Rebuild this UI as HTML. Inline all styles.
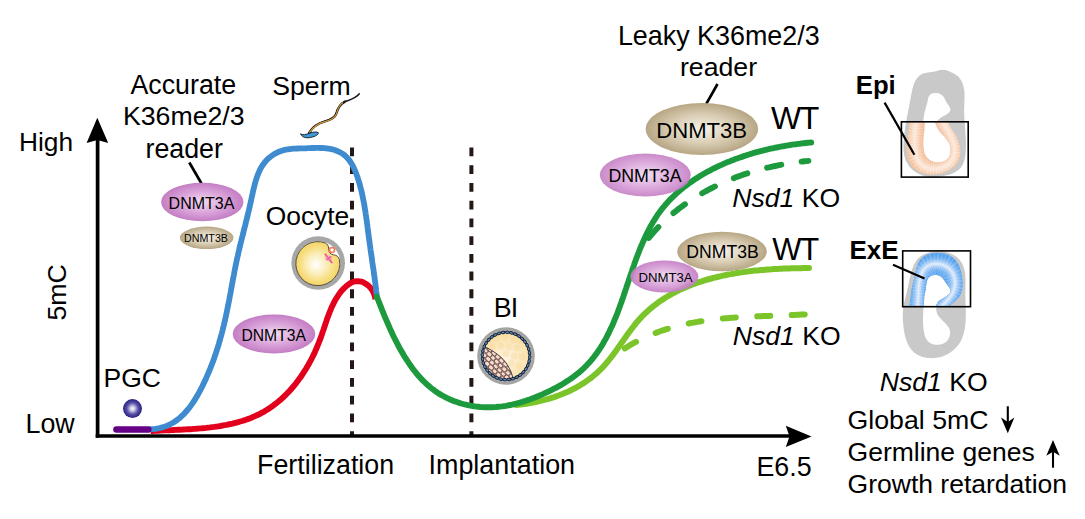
<!DOCTYPE html>
<html><head><meta charset="utf-8">
<style>
html,body{margin:0;padding:0;background:#fff;width:1085px;height:519px;overflow:hidden}
svg{display:block}
text{font-family:"Liberation Sans",sans-serif;fill:#000}
</style></head>
<body>
<svg width="1085" height="519" viewBox="0 0 1085 519">
<defs>
  <radialGradient id="gA" cx="50%" cy="50%" r="50%">
    <stop offset="0" stop-color="#f1dcf1"/>
    <stop offset="0.5" stop-color="#dcaadc"/>
    <stop offset="0.85" stop-color="#cc8acc"/>
    <stop offset="1" stop-color="#c27ec2"/>
  </radialGradient>
  <radialGradient id="gB" cx="50%" cy="50%" r="50%">
    <stop offset="0" stop-color="#f7f3ec"/>
    <stop offset="0.55" stop-color="#d9cdb4"/>
    <stop offset="1" stop-color="#b7a684"/>
  </radialGradient>
  <radialGradient id="gPGC" cx="50%" cy="50%" r="50%" fx="50%" fy="50%">
    <stop offset="0" stop-color="#ffffff"/>
    <stop offset="0.25" stop-color="#c9c6e6"/>
    <stop offset="0.6" stop-color="#5a52a8"/>
    <stop offset="1" stop-color="#251d80"/>
  </radialGradient>
  <radialGradient id="gOoc" cx="50%" cy="50%" r="50%" fx="45%" fy="53%">
    <stop offset="0" stop-color="#ffffff"/>
    <stop offset="0.45" stop-color="#fbeebb"/>
    <stop offset="0.8" stop-color="#f7dd7c"/>
    <stop offset="1" stop-color="#f4d468"/>
  </radialGradient>
  <radialGradient id="gBl" cx="50%" cy="55%" r="55%">
    <stop offset="0" stop-color="#fdf5e4"/>
    <stop offset="1" stop-color="#fbe0a6"/>
  </radialGradient>
  <clipPath id="clipBl"><circle cx="506" cy="356" r="22.5"/></clipPath>
  <clipPath id="clipICM"><path d="M482.5,345.5 C493,350.5 503,357 508,366 C510.5,370 511.8,373.5 513,378.5 L470,395 L470,340 Z"/></clipPath>
  <mask id="oocMask">
    <rect x="280" y="220" width="80" height="80" fill="#fff"/>
    <circle cx="332.2" cy="249.6" r="5.2" fill="#000"/>
  </mask>
  <clipPath id="clipEpi"><rect x="880" y="121.8" width="100" height="60"/></clipPath>
  <clipPath id="clipExE"><rect x="880" y="240" width="100" height="66"/></clipPath>
  <clipPath id="clipEpiBand"><path d="M909.4,117.1 L908.9,118.3 L908.8,119.8 L908.9,121.3 L909.0,122.9 L909.1,124.4 L909.0,125.9 L909.0,127.4 L908.8,128.8 L908.7,130.2 L908.5,131.7 L908.3,133.1 L908.1,134.5 L907.8,136.0 L907.6,137.4 L907.4,138.8 L907.2,140.3 L907.0,141.8 L906.9,143.3 L906.8,144.8 L906.7,146.3 L906.7,147.9 L906.8,149.4 L906.8,150.9 L907.0,152.5 L907.2,154.0 L907.4,155.4 L907.7,156.9 L908.1,158.3 L908.5,159.7 L909.0,161.1 L909.6,162.4 L910.2,163.6 L911.0,164.8 L911.8,166.0 L912.6,167.0 L913.6,168.0 L914.6,168.9 L915.7,169.8 L916.9,170.5 L918.1,171.2 L919.4,171.8 L920.8,172.4 L922.2,172.9 L923.6,173.3 L925.0,173.7 L926.5,173.9 L928.0,174.2 L929.6,174.3 L931.1,174.4 L932.7,174.4 L934.2,174.3 L935.8,174.2 L937.4,174.0 L938.9,173.8 L940.4,173.5 L941.9,173.1 L943.4,172.6 L944.9,172.1 L946.3,171.6 L947.6,170.9 L949.0,170.2 L950.2,169.5 L951.5,168.6 L952.6,167.8 L953.7,166.8 L954.7,165.8 L955.7,164.8 L956.6,163.7 L957.4,162.6 L958.1,161.4 L958.7,160.1 L959.3,158.8 L959.7,157.5 L960.1,156.1 L960.3,154.7 L960.4,153.2 L960.5,151.7 L960.4,150.2 L960.2,148.7 L960.0,147.1 L959.7,145.6 L959.3,144.1 L958.8,142.6 L958.3,141.1 L957.8,139.7 L957.2,138.4 L956.6,137.1 L955.9,135.8 L955.2,134.5 L954.4,133.3 L953.6,132.1 L952.8,130.9 L952.0,129.7 L951.1,128.5 L950.3,127.3 L949.6,126.0 L949.1,124.7 L948.9,123.3 L948.8,121.8 L948.7,120.3 L948.6,118.9 L948.2,117.6 L947.5,116.5 L946.5,115.7 L945.2,115.1 L943.7,114.8 L942.1,114.7 L940.5,115.0 L939.0,115.5 L937.6,116.3 L936.5,117.2 L935.6,118.3 L935.1,119.4 L934.9,120.7 L935.0,122.0 L935.3,123.4 L935.8,124.8 L936.4,126.3 L937.2,127.7 L938.1,129.1 L939.1,130.5 L940.1,131.8 L941.1,133.1 L942.1,134.3 L943.1,135.5 L944.1,136.6 L945.1,137.7 L946.0,138.8 L946.9,139.9 L947.7,141.0 L948.4,142.1 L949.1,143.3 L949.6,144.5 L950.1,145.7 L950.4,147.0 L950.7,148.4 L950.7,149.8 L950.7,151.4 L950.4,152.9 L950.1,154.5 L949.5,156.0 L948.8,157.4 L947.9,158.7 L946.8,159.7 L945.6,160.6 L944.3,161.3 L942.8,161.8 L941.3,162.2 L939.7,162.4 L938.1,162.5 L936.5,162.4 L935.0,162.1 L933.5,161.7 L932.0,161.3 L930.7,160.6 L929.5,159.9 L928.4,159.1 L927.5,158.2 L926.6,157.1 L925.9,156.0 L925.2,154.8 L924.7,153.6 L924.2,152.2 L923.9,150.8 L923.6,149.3 L923.4,147.8 L923.3,146.2 L923.2,144.6 L923.2,143.0 L923.3,141.3 L923.4,139.6 L923.6,137.9 L923.7,136.1 L923.9,134.4 L924.1,132.7 L924.3,131.0 L924.5,129.4 L924.6,127.8 L924.7,126.2 L924.7,124.7 L924.6,123.3 L924.5,121.9 L924.2,120.7 L923.9,119.5 L923.4,118.5 L922.8,117.5 L922.0,116.7 L921.0,116.1 L919.9,115.5 L918.6,115.2 L917.1,115.0 L915.4,114.9 L913.6,115.1 L911.9,115.5 L910.4,116.2 Z"/></clipPath>
  <clipPath id="clipExEBand"><path d="M909.6,309.8 L909.2,308.7 L909.1,307.3 L909.3,305.8 L909.6,304.2 L909.8,302.7 L910.0,301.1 L910.2,299.6 L910.4,298.1 L910.6,296.7 L910.8,295.2 L911.0,293.8 L911.1,292.3 L911.4,290.9 L911.6,289.5 L911.9,288.1 L912.2,286.7 L912.5,285.3 L912.8,283.9 L913.2,282.5 L913.6,281.1 L913.9,279.6 L914.3,278.2 L914.7,276.7 L915.0,275.3 L915.3,273.8 L915.6,272.3 L915.9,270.8 L916.2,269.3 L916.6,267.8 L917.0,266.4 L917.4,264.9 L917.9,263.6 L918.5,262.3 L919.2,261.1 L920.0,259.9 L920.9,258.9 L921.9,257.9 L923.0,257.0 L924.2,256.2 L925.4,255.5 L926.7,254.8 L928.1,254.3 L929.6,253.8 L931.1,253.4 L932.6,253.1 L934.1,252.9 L935.7,252.8 L937.2,252.7 L938.8,252.7 L940.4,252.9 L941.9,253.0 L943.5,253.3 L944.9,253.7 L946.4,254.1 L947.8,254.6 L949.2,255.2 L950.4,255.9 L951.6,256.6 L952.8,257.4 L953.8,258.3 L954.8,259.3 L955.7,260.3 L956.6,261.4 L957.3,262.6 L958.0,263.8 L958.7,265.1 L959.3,266.4 L959.8,267.7 L960.3,269.2 L960.8,270.6 L961.2,272.1 L961.5,273.6 L961.8,275.1 L962.1,276.6 L962.3,278.2 L962.5,279.8 L962.6,281.4 L962.6,282.9 L962.6,284.5 L962.6,286.0 L962.4,287.5 L962.2,289.0 L962.0,290.4 L961.6,291.8 L961.2,293.2 L960.6,294.4 L960.0,295.6 L959.3,296.8 L958.5,297.8 L957.6,298.8 L956.6,299.8 L955.6,300.7 L954.5,301.6 L953.4,302.5 L952.3,303.4 L951.1,304.4 L950.0,305.4 L948.8,306.5 L947.6,307.5 L946.4,308.5 L945.1,309.5 L943.8,310.4 L942.4,311.1 L941.0,311.6 L939.7,311.7 L938.6,311.4 L937.7,310.6 L937.0,309.5 L936.5,308.2 L936.4,306.8 L936.4,305.3 L936.8,304.0 L937.5,302.7 L938.4,301.6 L939.5,300.6 L940.8,299.7 L942.2,298.9 L943.6,298.0 L945.0,297.2 L946.4,296.3 L947.7,295.4 L948.9,294.4 L949.8,293.4 L950.4,292.3 L950.7,291.2 L950.6,290.1 L950.1,288.9 L949.4,287.7 L948.5,286.4 L947.5,285.1 L946.4,283.8 L945.5,282.5 L944.6,281.1 L943.7,279.8 L942.9,278.6 L941.9,277.5 L940.8,276.6 L939.6,275.9 L938.2,275.4 L936.7,275.1 L935.2,275.1 L933.7,275.2 L932.2,275.5 L930.9,276.1 L929.7,276.8 L928.7,277.7 L927.9,278.9 L927.3,280.1 L926.9,281.5 L926.6,283.0 L926.3,284.6 L926.1,286.1 L925.9,287.7 L925.7,289.3 L925.4,290.8 L925.0,292.2 L924.7,293.6 L924.3,295.0 L924.1,296.5 L923.9,297.9 L923.7,299.4 L923.8,301.0 L923.9,302.6 L924.0,304.2 L924.1,305.7 L924.1,307.2 L923.8,308.5 L923.3,309.6 L922.5,310.6 L921.3,311.3 L919.9,311.8 L918.4,312.0 L916.7,312.2 L914.9,312.1 L913.3,311.9 L911.8,311.4 L910.5,310.8 Z"/></clipPath>
</defs>

<!-- dashed vertical lines -->
<line x1="352" y1="147.5" x2="352" y2="435" stroke="#231815" stroke-width="4" stroke-dasharray="8.8 8.93"/>
<line x1="471.4" y1="147.5" x2="471.4" y2="435" stroke="#231815" stroke-width="4" stroke-dasharray="8.8 8.93"/>

<!-- axes -->
<line x1="97.6" y1="140" x2="97.6" y2="437.8" stroke="#000" stroke-width="3.7"/>
<polygon points="97.3,117.7 108.2,143 97.4,140 86.6,143" fill="#000"/>
<line x1="95.7" y1="436" x2="790" y2="436" stroke="#000" stroke-width="3.6"/>
<polygon points="811.5,436.4 785.8,425.7 789.5,436.4 785.8,447" fill="#000"/>

<!-- curves -->
<path d="M150.6,431.1 L152.5,431.0 L154.3,430.9 L156.2,430.8 L158.1,430.7 L160.0,430.6 L161.9,430.5 L163.9,430.4 L165.8,430.3 L167.8,430.3 L169.7,430.2 L171.7,430.1 L173.7,430.0 L175.7,429.9 L177.7,429.8 L179.7,429.7 L181.7,429.6 L183.7,429.5 L185.7,429.4 L187.8,429.3 L189.8,429.2 L191.9,429.1 L193.9,428.9 L195.9,428.8 L198.0,428.6 L200.0,428.4 L202.1,428.3 L204.1,428.1 L206.2,427.9 L208.2,427.6 L210.3,427.4 L212.3,427.1 L214.3,426.9 L216.4,426.6 L218.4,426.3 L220.4,426.0 L222.4,425.6 L224.4,425.2 L226.4,424.9 L228.4,424.5 L230.4,424.0 L232.4,423.6 L234.3,423.1 L236.3,422.6 L238.2,422.1 L240.1,421.5 L242.1,421.0 L244.0,420.4 L245.8,419.7 L247.7,419.1 L249.6,418.4 L251.4,417.7 L253.2,416.9 L255.0,416.1 L256.8,415.3 L258.6,414.5 L260.3,413.6 L262.0,412.7 L263.7,411.8 L265.4,410.8 L267.1,409.8 L268.7,408.7 L270.3,407.6 L271.9,406.5 L273.5,405.4 L275.0,404.2 L276.6,403.0 L278.1,401.8 L279.6,400.5 L281.1,399.2 L282.5,397.9 L284.0,396.6 L285.4,395.2 L286.8,393.8 L288.1,392.4 L289.5,391.0 L290.8,389.5 L292.1,388.0 L293.4,386.5 L294.7,385.0 L295.9,383.4 L297.1,381.8 L298.3,380.2 L299.5,378.6 L300.7,377.0 L301.8,375.3 L302.9,373.6 L304.0,371.9 L305.1,370.2 L306.2,368.5 L307.2,366.7 L308.2,365.0 L309.2,363.2 L310.2,361.4 L311.2,359.6 L312.1,357.8 L313.0,355.9 L313.9,354.1 L314.8,352.2 L315.6,350.3 L316.4,348.5 L317.2,346.6 L318.0,344.7 L318.8,342.8 L319.5,340.8 L320.3,338.9 L321.0,337.0 L321.7,335.0 L322.3,333.1 L323.0,331.1 L323.7,329.2 L324.3,327.2 L325.0,325.3 L325.6,323.4 L326.3,321.4 L326.9,319.5 L327.6,317.6 L328.3,315.7 L329.0,313.9 L329.7,312.0 L330.5,310.2 L331.2,308.3 L332.0,306.6 L332.9,304.8 L333.7,303.0 L334.6,301.3 L335.6,299.6 L336.5,298.0 L337.6,296.4 L338.6,294.8 L339.7,293.3 L340.9,291.7 L342.1,290.3 L343.4,288.9 L344.8,287.5 L346.2,286.2 L347.7,285.0 L349.2,283.9 L350.8,282.9 L352.5,282.1 L354.1,281.5 L355.9,281.2 L357.7,281.1 L359.5,281.3 L361.3,281.7 L363.1,282.3 L364.8,283.2 L366.5,284.3 L368.2,285.5 L369.7,287.0 L371.1,288.6 L372.3,290.4 L373.4,292.4 L374.3,294.5 L375.0,296.8 L375.4,299.2" fill="none" stroke="#e2001c" stroke-width="5.9"/>
<path d="M148.9,429.3 L151.2,429.2 L153.3,429.1 L155.5,428.9 L157.5,428.5 L159.6,428.1 L161.5,427.6 L163.5,427.1 L165.3,426.4 L167.2,425.7 L168.9,424.9 L170.7,424.0 L172.4,423.1 L174.0,422.1 L175.6,421.0 L177.2,419.9 L178.7,418.7 L180.2,417.5 L181.6,416.2 L183.0,414.9 L184.4,413.5 L185.7,412.0 L187.0,410.5 L188.3,409.0 L189.5,407.5 L190.7,405.9 L191.9,404.2 L193.0,402.6 L194.1,400.9 L195.2,399.2 L196.2,397.4 L197.3,395.7 L198.3,393.9 L199.3,392.1 L200.2,390.3 L201.2,388.5 L202.1,386.7 L203.0,384.9 L203.9,383.1 L204.7,381.2 L205.6,379.4 L206.4,377.6 L207.2,375.7 L208.0,373.9 L208.8,372.0 L209.6,370.2 L210.3,368.3 L211.1,366.5 L211.8,364.6 L212.5,362.8 L213.2,360.9 L213.9,359.1 L214.5,357.2 L215.2,355.3 L215.8,353.4 L216.4,351.6 L217.0,349.7 L217.6,347.8 L218.2,345.9 L218.8,344.0 L219.3,342.1 L219.9,340.2 L220.4,338.3 L220.9,336.4 L221.5,334.5 L222.0,332.6 L222.5,330.7 L222.9,328.8 L223.4,326.8 L223.9,324.9 L224.3,323.0 L224.8,321.0 L225.2,319.1 L225.7,317.2 L226.1,315.2 L226.5,313.3 L226.9,311.3 L227.3,309.3 L227.7,307.4 L228.1,305.4 L228.5,303.4 L228.9,301.5 L229.3,299.5 L229.6,297.5 L230.0,295.5 L230.4,293.5 L230.8,291.5 L231.1,289.6 L231.5,287.6 L231.8,285.6 L232.2,283.6 L232.6,281.6 L232.9,279.6 L233.3,277.7 L233.7,275.7 L234.1,273.7 L234.4,271.8 L234.8,269.8 L235.2,267.8 L235.6,265.9 L236.0,263.9 L236.4,262.0 L236.8,260.0 L237.2,258.1 L237.7,256.2 L238.1,254.3 L238.5,252.3 L239.0,250.4 L239.4,248.5 L239.9,246.6 L240.3,244.7 L240.8,242.8 L241.3,240.9 L241.7,239.0 L242.2,237.1 L242.7,235.2 L243.2,233.3 L243.6,231.4 L244.1,229.5 L244.6,227.6 L245.1,225.7 L245.6,223.8 L246.0,221.8 L246.5,219.9 L247.0,218.0 L247.5,216.1 L247.9,214.1 L248.4,212.2 L248.9,210.2 L249.3,208.3 L249.8,206.3 L250.2,204.3 L250.7,202.3 L251.1,200.3 L251.5,198.3 L252.0,196.3 L252.4,194.3 L252.9,192.2 L253.3,190.2 L253.8,188.2 L254.3,186.2 L254.8,184.2 L255.3,182.2 L255.9,180.3 L256.5,178.4 L257.2,176.5 L257.9,174.6 L258.6,172.8 L259.4,171.0 L260.3,169.2 L261.2,167.5 L262.2,165.9 L263.3,164.3 L264.5,162.7 L265.7,161.2 L267.0,159.8 L268.4,158.4 L269.9,157.2 L271.5,156.0 L273.1,154.8 L274.8,153.8 L276.6,152.9 L278.4,152.0 L280.2,151.3 L282.0,150.7 L283.9,150.1 L285.8,149.7 L287.7,149.4 L289.7,149.1 L291.7,148.9 L293.6,148.7 L295.7,148.6 L297.7,148.5 L299.7,148.4 L301.7,148.4 L303.8,148.3 L305.8,148.3 L307.9,148.2 L310.0,148.1 L312.0,148.0 L314.1,148.0 L316.1,147.9 L318.2,147.9 L320.2,148.0 L322.3,148.0 L324.3,148.1 L326.3,148.3 L328.3,148.6 L330.2,148.9 L332.1,149.3 L334.0,149.8 L335.9,150.5 L337.7,151.2 L339.5,152.0 L341.2,152.9 L342.8,153.9 L344.4,155.1 L345.8,156.3 L347.1,157.7 L348.4,159.1 L349.6,160.6 L350.7,162.2 L351.7,163.9 L352.7,165.6 L353.6,167.4 L354.4,169.2 L355.2,171.1 L356.0,173.0 L356.7,174.9 L357.4,176.8 L358.0,178.8 L358.6,180.7 L359.2,182.7 L359.8,184.6 L360.3,186.6 L360.8,188.6 L361.3,190.5 L361.8,192.5 L362.2,194.4 L362.6,196.4 L363.0,198.4 L363.4,200.3 L363.8,202.3 L364.2,204.2 L364.5,206.2 L364.8,208.2 L365.1,210.1 L365.5,212.1 L365.7,214.1 L366.0,216.0 L366.3,218.0 L366.6,220.0 L366.9,221.9 L367.1,223.9 L367.4,225.9 L367.6,227.9 L367.9,229.8 L368.1,231.8 L368.4,233.8 L368.6,235.7 L368.9,237.7 L369.2,239.7 L369.4,241.7 L369.7,243.6 L370.0,245.6 L370.3,247.6 L370.5,249.6 L370.8,251.5 L371.1,253.5 L371.4,255.5 L371.7,257.5 L372.0,259.4 L372.2,261.4 L372.5,263.4 L372.8,265.4 L373.1,267.4 L373.4,269.3 L373.7,271.3 L373.9,273.3 L374.2,275.3 L374.5,277.2 L374.7,279.2 L375.0,281.2 L375.3,283.2 L375.5,285.2 L375.8,287.1 L376.0,289.1 L376.2,291.1 L376.5,293.1 L376.7,295.0 L376.9,297.0 L377.1,299.0" fill="none" stroke="#3e8bcf" stroke-width="5.8"/>
<path d="M516.3,405.0 L518.3,404.8 L520.4,404.5 L522.4,404.2 L524.4,404.0 L526.5,403.7 L528.5,403.3 L530.5,403.0 L532.5,402.6 L534.5,402.2 L536.5,401.8 L538.5,401.4 L540.5,400.9 L542.5,400.4 L544.4,399.9 L546.4,399.4 L548.3,398.9 L550.3,398.3 L552.2,397.7 L554.1,397.1 L556.0,396.4 L557.9,395.7 L559.8,395.0 L561.7,394.3 L563.5,393.6 L565.3,392.8 L567.2,392.0 L569.0,391.2 L570.8,390.3 L572.5,389.4 L574.3,388.5 L576.0,387.6 L577.8,386.6 L579.5,385.7 L581.2,384.6 L582.8,383.6 L584.5,382.5 L586.1,381.4 L587.7,380.3 L589.3,379.1 L590.9,378.0 L592.4,376.7 L593.9,375.5 L595.4,374.2 L596.9,372.9 L598.4,371.6 L599.8,370.2 L601.2,368.8 L602.6,367.4 L603.9,366.0 L605.2,364.5 L606.5,363.0 L607.8,361.4 L609.1,359.9 L610.3,358.3 L611.6,356.7 L612.8,355.1 L614.0,353.5 L615.2,351.9 L616.4,350.2 L617.6,348.6 L618.7,346.9 L619.9,345.2 L621.1,343.6 L622.2,341.9 L623.4,340.2 L624.6,338.6 L625.7,336.9 L626.9,335.3 L628.1,333.6 L629.3,332.0 L630.5,330.4 L631.7,328.8 L632.9,327.2 L634.1,325.6 L635.4,324.0 L636.6,322.5 L637.9,321.0 L639.2,319.5 L640.5,318.1 L641.9,316.6 L643.3,315.2 L644.6,313.9 L646.1,312.5 L647.5,311.2 L648.9,309.9 L650.4,308.6 L651.9,307.4 L653.4,306.2 L654.9,305.0 L656.5,303.8 L658.0,302.7 L659.6,301.5 L661.2,300.4 L662.8,299.4 L664.4,298.3 L666.1,297.3 L667.7,296.3 L669.4,295.3 L671.1,294.4 L672.8,293.4 L674.5,292.5 L676.2,291.6 L678.0,290.7 L679.7,289.9 L681.5,289.1 L683.3,288.3 L685.1,287.5 L686.9,286.7 L688.7,286.0 L690.6,285.2 L692.4,284.5 L694.3,283.8 L696.1,283.2 L698.0,282.5 L699.9,281.9 L701.8,281.3 L703.7,280.7 L705.6,280.1 L707.5,279.5 L709.4,279.0 L711.4,278.5 L713.3,277.9 L715.3,277.5 L717.2,277.0 L719.2,276.5 L721.2,276.1 L723.1,275.6 L725.1,275.2 L727.1,274.8 L729.1,274.4 L731.1,274.1 L733.1,273.7 L735.1,273.4 L737.1,273.0 L739.1,272.7 L741.1,272.4 L743.1,272.1 L745.2,271.8 L747.2,271.6 L749.2,271.3 L751.2,271.1 L753.2,270.8 L755.3,270.6 L757.3,270.4 L759.3,270.2 L761.3,270.0 L763.4,269.9 L765.4,269.7 L767.4,269.5 L769.4,269.4 L771.5,269.3 L773.5,269.1 L775.5,269.0 L777.5,268.9 L779.5,268.8 L781.5,268.7 L783.5,268.6 L785.5,268.5 L787.5,268.5 L789.5,268.4 L791.4,268.3 L793.4,268.3 L795.4,268.3 L797.3,268.2 L799.3,268.2 L801.2,268.2 L803.2,268.1 L805.1,268.1 L807.0,268.1 L809.0,268.1" fill="none" stroke="#7bc52b" stroke-width="6" stroke-linecap="round"/>
<path d="M624.8,348.4 L626.6,347.3 L628.3,346.2 L630.0,345.2 L631.8,344.2 L633.5,343.2 L635.3,342.2 L637.1,341.3 L638.9,340.3 L640.7,339.4 L642.5,338.6 L644.3,337.7 L646.1,336.9 L647.9,336.1 L649.7,335.3 L651.6,334.5 L653.4,333.8 L655.3,333.1 L657.1,332.4 L659.0,331.7 L660.8,331.0 L662.7,330.4 L664.6,329.8 L666.5,329.2 L668.4,328.6 L670.3,328.0 L672.2,327.5 L674.1,327.0 L676.0,326.4 L677.9,326.0 L679.8,325.5 L681.8,325.0 L683.7,324.6 L685.6,324.1 L687.6,323.7 L689.5,323.3 L691.5,322.9 L693.4,322.6 L695.4,322.2 L697.3,321.9 L699.3,321.5 L701.3,321.2 L703.2,320.9 L705.2,320.6 L707.2,320.4 L709.2,320.1 L711.1,319.8 L713.1,319.6 L715.1,319.4 L717.1,319.1 L719.1,318.9 L721.1,318.7 L723.1,318.5 L725.1,318.3 L727.1,318.2 L729.1,318.0 L731.1,317.8 L733.1,317.7 L735.1,317.5 L737.1,317.4 L739.1,317.3 L741.1,317.1 L743.1,317.0 L745.1,316.9 L747.1,316.8 L749.1,316.7 L751.1,316.6 L753.2,316.5 L755.2,316.4 L757.2,316.3 L759.2,316.2 L761.2,316.2 L763.2,316.1 L765.2,316.0 L767.2,315.9 L769.2,315.9 L771.2,315.8 L773.2,315.7 L775.2,315.6 L777.2,315.6 L779.2,315.5 L781.2,315.4 L783.2,315.4 L785.2,315.3 L787.1,315.2 L789.1,315.1 L791.1,315.1 L793.1,315.0 L795.1,314.9 L797.0,314.8 L799.0,314.7 L801.0,314.6 L802.9,314.5 L804.9,314.4 L806.8,314.3 L808.8,314.2" fill="none" stroke="#7bc52b" stroke-width="6" stroke-dasharray="13 21.5" stroke-linecap="round"/>
<path d="M376.8,296.5 L377.5,298.2 L378.1,299.9 L378.8,301.6 L379.5,303.3 L380.2,305.1 L380.9,306.9 L381.6,308.7 L382.3,310.5 L383.0,312.3 L383.8,314.1 L384.5,315.9 L385.3,317.8 L386.1,319.6 L386.9,321.5 L387.7,323.3 L388.5,325.2 L389.3,327.0 L390.1,328.9 L391.0,330.8 L391.9,332.7 L392.7,334.5 L393.6,336.4 L394.5,338.2 L395.5,340.1 L396.4,342.0 L397.4,343.8 L398.3,345.6 L399.3,347.5 L400.3,349.3 L401.4,351.1 L402.4,352.9 L403.5,354.7 L404.5,356.5 L405.6,358.2 L406.7,359.9 L407.9,361.7 L409.0,363.4 L410.2,365.1 L411.4,366.7 L412.6,368.4 L413.8,370.0 L415.1,371.6 L416.3,373.2 L417.6,374.7 L418.9,376.2 L420.3,377.7 L421.6,379.2 L423.0,380.6 L424.4,382.0 L425.9,383.4 L427.3,384.7 L428.8,386.0 L430.3,387.3 L431.8,388.5 L433.4,389.7 L434.9,390.9 L436.5,392.0 L438.1,393.1 L439.8,394.1 L441.5,395.1 L443.2,396.0 L444.9,397.0 L446.6,397.8 L448.4,398.7 L450.1,399.5 L451.9,400.2 L453.7,401.0 L455.6,401.6 L457.4,402.3 L459.3,402.9 L461.1,403.5 L463.0,404.0 L464.9,404.5 L466.8,404.9 L468.7,405.3 L470.7,405.7 L472.6,406.0 L474.5,406.3 L476.5,406.6 L478.4,406.8 L480.4,407.0 L482.4,407.1 L484.4,407.2 L486.3,407.3 L488.3,407.3 L490.3,407.3 L492.3,407.2 L494.3,407.1 L496.3,407.0 L498.2,406.8 L500.2,406.6 L502.2,406.4 L504.2,406.1 L506.2,405.8 L508.1,405.4 L510.1,405.0 L512.1,404.6 L514.0,404.1 L516.0,403.7 L517.9,403.1 L519.9,402.6 L521.8,402.0 L523.8,401.4 L525.7,400.8 L527.6,400.1 L529.6,399.5 L531.5,398.8 L533.4,398.0 L535.3,397.3 L537.2,396.5 L539.1,395.7 L541.0,394.9 L542.9,394.1 L544.8,393.2 L546.6,392.4 L548.5,391.5 L550.4,390.6 L552.2,389.7 L554.0,388.7 L555.8,387.8 L557.6,386.8 L559.4,385.8 L561.2,384.8 L563.0,383.8 L564.7,382.7 L566.4,381.6 L568.1,380.5 L569.8,379.4 L571.4,378.3 L573.0,377.1 L574.7,375.9 L576.2,374.7 L577.8,373.5 L579.3,372.2 L580.8,370.9 L582.3,369.6 L583.7,368.3 L585.1,366.9 L586.5,365.5 L587.8,364.1 L589.1,362.7 L590.4,361.3 L591.6,359.8 L592.9,358.3 L594.1,356.8 L595.2,355.3 L596.4,353.7 L597.5,352.1 L598.6,350.5 L599.7,348.9 L600.7,347.3 L601.8,345.7 L602.8,344.0 L603.7,342.3 L604.7,340.6 L605.7,338.9 L606.6,337.2 L607.5,335.4 L608.4,333.7 L609.2,331.9 L610.1,330.1 L610.9,328.3 L611.8,326.5 L612.6,324.7 L613.4,322.9 L614.1,321.1 L614.9,319.2 L615.7,317.4 L616.4,315.5 L617.2,313.6 L617.9,311.7 L618.6,309.8 L619.3,307.9 L620.0,306.0 L620.7,304.1 L621.4,302.2 L622.0,300.3 L622.7,298.4 L623.4,296.4 L624.0,294.5 L624.7,292.6 L625.3,290.6 L626.0,288.7 L626.6,286.8 L627.3,284.8 L627.9,282.9 L628.6,280.9 L629.2,279.0 L629.9,277.0 L630.5,275.1 L631.2,273.2 L631.9,271.2 L632.5,269.3 L633.2,267.4 L633.9,265.4 L634.5,263.5 L635.2,261.6 L635.9,259.7 L636.6,257.8 L637.3,255.9 L638.0,254.0 L638.8,252.1 L639.5,250.2 L640.2,248.4 L641.0,246.5 L641.8,244.7 L642.6,242.8 L643.4,241.0 L644.2,239.2 L645.0,237.4 L645.9,235.6 L646.7,233.8 L647.6,232.0 L648.5,230.3 L649.4,228.5 L650.3,226.8 L651.3,225.1 L652.3,223.4 L653.2,221.7 L654.3,220.1 L655.3,218.4 L656.4,216.8 L657.4,215.2 L658.5,213.6 L659.7,212.0 L660.8,210.5 L662.0,208.9 L663.2,207.4 L664.5,205.9 L665.7,204.4 L667.0,203.0 L668.3,201.5 L669.6,200.1 L671.0,198.7 L672.4,197.4 L673.8,196.0 L675.2,194.7 L676.6,193.3 L678.1,192.0 L679.6,190.7 L681.1,189.5 L682.6,188.2 L684.1,187.0 L685.7,185.8 L687.3,184.6 L688.9,183.4 L690.5,182.3 L692.1,181.2 L693.8,180.0 L695.4,178.9 L697.1,177.9 L698.8,176.8 L700.5,175.7 L702.2,174.7 L704.0,173.7 L705.7,172.7 L707.5,171.7 L709.3,170.8 L711.1,169.8 L712.9,168.9 L714.7,168.0 L716.5,167.1 L718.4,166.2 L720.2,165.4 L722.1,164.6 L723.9,163.7 L725.8,162.9 L727.7,162.1 L729.6,161.4 L731.5,160.6 L733.4,159.9 L735.3,159.1 L737.2,158.4 L739.2,157.7 L741.1,157.1 L743.1,156.4 L745.0,155.7 L747.0,155.1 L748.9,154.5 L750.9,153.9 L752.8,153.3 L754.8,152.7 L756.8,152.2 L758.7,151.7 L760.7,151.1 L762.7,150.6 L764.7,150.1 L766.6,149.6 L768.6,149.2 L770.6,148.7 L772.6,148.3 L774.5,147.9 L776.5,147.5 L778.5,147.1 L780.5,146.7 L782.4,146.3 L784.4,146.0 L786.3,145.6 L788.3,145.3 L790.2,145.0 L792.2,144.7 L794.1,144.4 L796.0,144.2 L798.0,143.9 L799.9,143.7 L801.8,143.4 L803.7,143.2 L805.6,143.0 L807.5,142.8 L809.4,142.6 L811.2,142.5" fill="none" stroke="#1e9a3e" stroke-width="5.9" stroke-linecap="round"/>
<path d="M648.8,237.9 L650.1,236.3 L651.4,234.8 L652.7,233.3 L654.0,231.8 L655.4,230.3 L656.8,228.8 L658.1,227.3 L659.5,225.9 L660.9,224.5 L662.4,223.1 L663.8,221.7 L665.2,220.3 L666.7,219.0 L668.2,217.6 L669.7,216.3 L671.2,215.0 L672.7,213.7 L674.2,212.4 L675.8,211.2 L677.4,209.9 L678.9,208.7 L680.5,207.5 L682.1,206.3 L683.7,205.1 L685.3,204.0 L687.0,202.8 L688.6,201.7 L690.3,200.6 L691.9,199.5 L693.6,198.4 L695.3,197.4 L697.0,196.3 L698.7,195.3 L700.4,194.3 L702.1,193.3 L703.9,192.3 L705.6,191.3 L707.4,190.3 L709.1,189.4 L710.9,188.5 L712.7,187.6 L714.5,186.7 L716.3,185.8 L718.1,184.9 L719.9,184.1 L721.7,183.3 L723.5,182.4 L725.4,181.6 L727.2,180.8 L729.1,180.1 L730.9,179.3 L732.8,178.6 L734.7,177.8 L736.5,177.1 L738.4,176.4 L740.3,175.8 L742.2,175.1 L744.1,174.4 L746.0,173.8 L747.9,173.2 L749.8,172.6 L751.7,172.0 L753.6,171.4 L755.6,170.8 L757.5,170.3 L759.4,169.7 L761.4,169.2 L763.3,168.7 L765.3,168.2 L767.2,167.7 L769.1,167.3 L771.1,166.8 L773.1,166.4 L775.0,166.0 L777.0,165.6 L778.9,165.2 L780.9,164.8 L782.8,164.4 L784.8,164.1 L786.8,163.7 L788.7,163.4 L790.7,163.1 L792.7,162.8 L794.6,162.5 L796.6,162.2 L798.6,162.0 L800.5,161.8 L802.5,161.5 L804.5,161.3 L806.4,161.1 L808.4,160.9" fill="none" stroke="#1e9a3e" stroke-width="5.9" stroke-dasharray="14.5 20.5" stroke-linecap="round"/>

<!-- purple bar & PGC -->
<line x1="116.5" y1="429.5" x2="148.3" y2="429.5" stroke="#650087" stroke-width="6.6" stroke-linecap="round"/>
<circle cx="132.5" cy="408.6" r="9.5" fill="url(#gPGC)"/>

<!-- labels axes -->
<text x="19" y="151" font-size="26.3">High</text>
<text x="25.5" y="433" font-size="26.8">Low</text>
<text transform="translate(65.6,292.4) rotate(-90)" text-anchor="middle" font-size="26.7">5mC</text>
<text x="325.6" y="474" font-size="26.8" text-anchor="middle">Fertilization</text>
<text x="501.8" y="474" font-size="26.9" text-anchor="middle">Implantation</text>
<text x="756.5" y="476.3" font-size="26.8">E6.5</text>

<!-- left annotations -->
<text x="183.3" y="94" font-size="26.8" text-anchor="middle">Accurate</text>
<text x="183.8" y="124.8" font-size="26.7" text-anchor="middle">K36me2/3</text>
<text x="184.2" y="158" font-size="26.8" text-anchor="middle">reader</text>
<line x1="189.3" y1="162.5" x2="201.5" y2="183.5" stroke="#000" stroke-width="2.7"/>
<ellipse cx="202.3" cy="202" rx="41.2" ry="19.3" fill="url(#gA)"/>
<text x="201.5" y="208.5" font-size="16" text-anchor="middle">DNMT3A</text>
<ellipse cx="206.7" cy="237.8" rx="26.8" ry="11.2" fill="url(#gB)"/>
<text x="206" y="242" font-size="10.7" text-anchor="middle">DNMT3B</text>

<text x="311.5" y="95" font-size="26.6" text-anchor="middle">Sperm</text>
<text x="307.5" y="225" font-size="26.4" text-anchor="middle">Oocyte</text>
<text x="132.3" y="386.6" font-size="26.5" text-anchor="middle">PGC</text>
<text x="493.8" y="316.5" font-size="26.8" letter-spacing="-0.8">BI</text>

<ellipse cx="274" cy="334" rx="41.3" ry="19.4" fill="url(#gA)"/>
<text x="273.7" y="340.6" font-size="15.7" text-anchor="middle">DNMT3A</text>

<!-- sperm -->
<path d="M359.3,93.8 C355.5,99 349,100 343.5,102.3 C338.5,104.8 337.2,109.5 336,114 C334.5,118 331,119.6 325,121.2 C318.5,123 313,126 309.2,132.8" fill="none" stroke="#1c1c1c" stroke-width="1.5" stroke-linecap="round"/>
<path d="M345,101.6 C339,104.2 337.4,109.5 336.2,114 C334.5,118.2 331,119.8 325,121.4 C318.5,123.2 313,126.2 309.2,132.8" fill="none" stroke="#1c1c1c" stroke-width="2.4" stroke-linecap="round"/>
<path d="M343,102.6 C339,104.6 337.6,109.5 336.4,114 C334.7,118.4 331,120 325,121.6 C318.5,123.4 313,126.4 309.4,132.6" fill="none" stroke="#d59d3a" stroke-width="1.1"/>
<path d="M300.5,133.8 C302.5,135.5 306,134.6 309.5,133.2 C313,132 316.5,131.4 318.3,132.6 C318.8,135 314,137.2 308,137.8 C304,138 301.5,136.2 300.5,133.8 Z" fill="#3a9bd9" stroke="#151515" stroke-width="0.9"/>

<!-- oocyte -->
<circle cx="318.2" cy="263" r="26.8" fill="#a7a7a7"/>
<circle cx="318" cy="263.3" r="22.3" fill="#fff"/>
<path d="M325.2,242.9 C327.6,244 328.6,246 328.7,249 C328.8,252.5 330.5,254.5 333.5,254.8 C336.5,255 338.5,256.5 339.5,259.9 A22,22 0 1 1 325.2,242.9 Z" fill="url(#gOoc)" stroke="#2e2a20" stroke-width="0.8"/>
<circle cx="332" cy="250" r="2.5" fill="#fff" stroke="#f27a55" stroke-width="1.6"/>
<path d="M325.3,254.3 L331.7,262.5" stroke="#e8318a" stroke-width="1.6" stroke-linecap="round"/>
<path d="M327,259.5 L330.6,256.8" stroke="#e8318a" stroke-width="1.5" stroke-linecap="round"/>
<path d="M325.3,254.3 L324.8,259.5 L331.7,262.5 L332.2,256.8 Z" fill="#f08ab8" opacity="0.55"/>

<!-- blastocyst -->
<circle cx="506" cy="356" r="28.8" fill="#a4a4a4"/>
<circle cx="506" cy="356" r="25.8" fill="#bdbdbd"/>
<circle cx="506" cy="356" r="23" fill="url(#gBl)"/>
<g clip-path="url(#clipBl)" fill="#f6d594" opacity="0.35">
  <circle cx="497" cy="339" r="3.4"/><circle cx="505" cy="337" r="3.4"/><circle cx="513" cy="340" r="3.4"/><circle cx="501" cy="346" r="3.4"/><circle cx="509" cy="347" r="3.4"/><circle cx="517" cy="348" r="3.4"/><circle cx="506" cy="354" r="3.4"/><circle cx="514" cy="356" r="3.4"/><circle cx="522" cy="357" r="3.4"/><circle cx="511" cy="363" r="3.4"/><circle cx="519" cy="366" r="3.4"/><circle cx="493" cy="347" r="3.4"/><circle cx="489" cy="339" r="3.4"/><circle cx="521" cy="341" r="3.4"/>
</g>
<g clip-path="url(#clipBl)">
  <path d="M482.5,345.5 C493,350.5 503,357 508,366 C510.5,370 511.8,373.5 513,378.5 L470,395 L470,340 Z" fill="#f1b4a0"/>
  <g clip-path="url(#clipICM)" fill="#fcd9cc" stroke="#3e3434" stroke-width="0.65"><ellipse cx="480.1" cy="333.4" rx="2.9" ry="2.1" transform="rotate(45 480.1 333.4)"/><ellipse cx="483.9" cy="337.2" rx="3.0" ry="2.2" transform="rotate(45 483.9 337.2)"/><ellipse cx="487.6" cy="340.9" rx="2.9" ry="2.2" transform="rotate(45 487.6 340.9)"/><ellipse cx="491.3" cy="344.7" rx="2.5" ry="2.0" transform="rotate(45 491.3 344.7)"/><ellipse cx="495.1" cy="348.4" rx="3.1" ry="2.1" transform="rotate(45 495.1 348.4)"/><ellipse cx="498.8" cy="352.2" rx="3.0" ry="1.8" transform="rotate(45 498.8 352.2)"/><ellipse cx="502.6" cy="355.9" rx="2.8" ry="1.9" transform="rotate(45 502.6 355.9)"/><ellipse cx="506.3" cy="359.7" rx="2.8" ry="2.0" transform="rotate(45 506.3 359.7)"/><ellipse cx="510.1" cy="363.4" rx="2.5" ry="1.9" transform="rotate(45 510.1 363.4)"/><ellipse cx="513.8" cy="367.2" rx="2.7" ry="2.2" transform="rotate(45 513.8 367.2)"/><ellipse cx="517.6" cy="370.9" rx="3.0" ry="1.8" transform="rotate(45 517.6 370.9)"/><ellipse cx="521.3" cy="374.6" rx="3.0" ry="1.8" transform="rotate(45 521.3 374.6)"/><ellipse cx="525.1" cy="378.4" rx="2.9" ry="1.8" transform="rotate(45 525.1 378.4)"/><ellipse cx="479.1" cy="338.2" rx="2.5" ry="2.2" transform="rotate(45 479.1 338.2)"/><ellipse cx="482.8" cy="341.9" rx="2.6" ry="1.9" transform="rotate(45 482.8 341.9)"/><ellipse cx="486.6" cy="345.7" rx="3.1" ry="2.2" transform="rotate(45 486.6 345.7)"/><ellipse cx="490.3" cy="349.4" rx="2.7" ry="2.2" transform="rotate(45 490.3 349.4)"/><ellipse cx="494.1" cy="353.2" rx="2.8" ry="2.1" transform="rotate(45 494.1 353.2)"/><ellipse cx="497.8" cy="356.9" rx="2.6" ry="2.2" transform="rotate(45 497.8 356.9)"/><ellipse cx="501.6" cy="360.7" rx="2.9" ry="2.2" transform="rotate(45 501.6 360.7)"/><ellipse cx="505.3" cy="364.4" rx="3.0" ry="1.9" transform="rotate(45 505.3 364.4)"/><ellipse cx="509.1" cy="368.2" rx="2.7" ry="1.8" transform="rotate(45 509.1 368.2)"/><ellipse cx="512.8" cy="371.9" rx="2.6" ry="1.8" transform="rotate(45 512.8 371.9)"/><ellipse cx="516.6" cy="375.7" rx="2.7" ry="2.1" transform="rotate(45 516.6 375.7)"/><ellipse cx="520.3" cy="379.4" rx="2.5" ry="2.1" transform="rotate(45 520.3 379.4)"/><ellipse cx="524.1" cy="383.2" rx="2.7" ry="1.9" transform="rotate(45 524.1 383.2)"/><ellipse cx="474.3" cy="339.2" rx="3.0" ry="2.0" transform="rotate(45 474.3 339.2)"/><ellipse cx="478.1" cy="343.0" rx="2.7" ry="2.0" transform="rotate(45 478.1 343.0)"/><ellipse cx="481.8" cy="346.7" rx="2.9" ry="1.8" transform="rotate(45 481.8 346.7)"/><ellipse cx="485.5" cy="350.5" rx="3.1" ry="1.8" transform="rotate(45 485.5 350.5)"/><ellipse cx="489.3" cy="354.2" rx="2.9" ry="2.2" transform="rotate(45 489.3 354.2)"/><ellipse cx="493.0" cy="358.0" rx="2.5" ry="2.1" transform="rotate(45 493.0 358.0)"/><ellipse cx="496.8" cy="361.7" rx="2.7" ry="2.0" transform="rotate(45 496.8 361.7)"/><ellipse cx="500.5" cy="365.5" rx="2.5" ry="1.8" transform="rotate(45 500.5 365.5)"/><ellipse cx="504.3" cy="369.2" rx="2.6" ry="2.2" transform="rotate(45 504.3 369.2)"/><ellipse cx="508.0" cy="373.0" rx="2.6" ry="2.1" transform="rotate(45 508.0 373.0)"/><ellipse cx="511.8" cy="376.7" rx="3.1" ry="2.2" transform="rotate(45 511.8 376.7)"/><ellipse cx="515.5" cy="380.4" rx="2.7" ry="1.9" transform="rotate(45 515.5 380.4)"/><ellipse cx="519.3" cy="384.2" rx="2.8" ry="2.1" transform="rotate(45 519.3 384.2)"/><ellipse cx="473.3" cy="344.0" rx="2.6" ry="2.1" transform="rotate(45 473.3 344.0)"/><ellipse cx="477.0" cy="347.7" rx="3.0" ry="2.2" transform="rotate(45 477.0 347.7)"/><ellipse cx="480.8" cy="351.5" rx="2.5" ry="2.2" transform="rotate(45 480.8 351.5)"/><ellipse cx="484.5" cy="355.2" rx="2.6" ry="1.9" transform="rotate(45 484.5 355.2)"/><ellipse cx="488.3" cy="359.0" rx="2.9" ry="2.2" transform="rotate(45 488.3 359.0)"/><ellipse cx="492.0" cy="362.7" rx="2.7" ry="2.2" transform="rotate(45 492.0 362.7)"/><ellipse cx="495.8" cy="366.5" rx="2.8" ry="1.9" transform="rotate(45 495.8 366.5)"/><ellipse cx="499.5" cy="370.2" rx="2.7" ry="1.8" transform="rotate(45 499.5 370.2)"/><ellipse cx="503.3" cy="374.0" rx="2.5" ry="1.8" transform="rotate(45 503.3 374.0)"/><ellipse cx="507.0" cy="377.7" rx="2.9" ry="2.2" transform="rotate(45 507.0 377.7)"/><ellipse cx="510.8" cy="381.5" rx="2.6" ry="1.8" transform="rotate(45 510.8 381.5)"/><ellipse cx="514.5" cy="385.2" rx="3.1" ry="2.0" transform="rotate(45 514.5 385.2)"/><ellipse cx="518.3" cy="389.0" rx="2.7" ry="1.9" transform="rotate(45 518.3 389.0)"/><ellipse cx="468.5" cy="345.0" rx="2.9" ry="2.2" transform="rotate(45 468.5 345.0)"/><ellipse cx="472.3" cy="348.8" rx="2.8" ry="2.0" transform="rotate(45 472.3 348.8)"/><ellipse cx="476.0" cy="352.5" rx="2.5" ry="2.2" transform="rotate(45 476.0 352.5)"/><ellipse cx="479.8" cy="356.3" rx="2.5" ry="2.0" transform="rotate(45 479.8 356.3)"/><ellipse cx="483.5" cy="360.0" rx="3.0" ry="1.8" transform="rotate(45 483.5 360.0)"/><ellipse cx="487.2" cy="363.8" rx="2.9" ry="2.2" transform="rotate(45 487.2 363.8)"/><ellipse cx="491.0" cy="367.5" rx="2.9" ry="2.1" transform="rotate(45 491.0 367.5)"/><ellipse cx="494.7" cy="371.3" rx="2.6" ry="2.0" transform="rotate(45 494.7 371.3)"/><ellipse cx="498.5" cy="375.0" rx="2.6" ry="2.2" transform="rotate(45 498.5 375.0)"/><ellipse cx="502.2" cy="378.7" rx="2.7" ry="2.0" transform="rotate(45 502.2 378.7)"/><ellipse cx="506.0" cy="382.5" rx="3.1" ry="2.2" transform="rotate(45 506.0 382.5)"/><ellipse cx="509.7" cy="386.2" rx="3.1" ry="2.0" transform="rotate(45 509.7 386.2)"/><ellipse cx="513.5" cy="390.0" rx="2.8" ry="2.1" transform="rotate(45 513.5 390.0)"/><ellipse cx="467.5" cy="349.8" rx="2.8" ry="1.9" transform="rotate(45 467.5 349.8)"/><ellipse cx="471.2" cy="353.5" rx="2.7" ry="1.8" transform="rotate(45 471.2 353.5)"/><ellipse cx="475.0" cy="357.3" rx="2.7" ry="2.2" transform="rotate(45 475.0 357.3)"/><ellipse cx="478.7" cy="361.0" rx="3.1" ry="2.1" transform="rotate(45 478.7 361.0)"/><ellipse cx="482.5" cy="364.8" rx="2.8" ry="1.9" transform="rotate(45 482.5 364.8)"/><ellipse cx="486.2" cy="368.5" rx="2.6" ry="1.9" transform="rotate(45 486.2 368.5)"/><ellipse cx="490.0" cy="372.3" rx="3.0" ry="2.2" transform="rotate(45 490.0 372.3)"/><ellipse cx="493.7" cy="376.0" rx="2.7" ry="2.1" transform="rotate(45 493.7 376.0)"/><ellipse cx="497.5" cy="379.8" rx="3.0" ry="2.1" transform="rotate(45 497.5 379.8)"/><ellipse cx="501.2" cy="383.5" rx="2.9" ry="2.1" transform="rotate(45 501.2 383.5)"/><ellipse cx="505.0" cy="387.3" rx="2.7" ry="2.1" transform="rotate(45 505.0 387.3)"/><ellipse cx="508.7" cy="391.0" rx="2.7" ry="2.0" transform="rotate(45 508.7 391.0)"/><ellipse cx="512.5" cy="394.8" rx="3.0" ry="2.1" transform="rotate(45 512.5 394.8)"/><ellipse cx="462.7" cy="350.8" rx="2.7" ry="2.2" transform="rotate(45 462.7 350.8)"/><ellipse cx="466.5" cy="354.6" rx="2.9" ry="2.0" transform="rotate(45 466.5 354.6)"/><ellipse cx="470.2" cy="358.3" rx="2.5" ry="2.0" transform="rotate(45 470.2 358.3)"/><ellipse cx="474.0" cy="362.1" rx="2.7" ry="2.1" transform="rotate(45 474.0 362.1)"/><ellipse cx="477.7" cy="365.8" rx="2.8" ry="2.2" transform="rotate(45 477.7 365.8)"/><ellipse cx="481.4" cy="369.6" rx="2.9" ry="2.1" transform="rotate(45 481.4 369.6)"/><ellipse cx="485.2" cy="373.3" rx="2.7" ry="2.1" transform="rotate(45 485.2 373.3)"/><ellipse cx="488.9" cy="377.1" rx="2.9" ry="2.2" transform="rotate(45 488.9 377.1)"/><ellipse cx="492.7" cy="380.8" rx="2.7" ry="2.2" transform="rotate(45 492.7 380.8)"/><ellipse cx="496.4" cy="384.5" rx="3.0" ry="2.1" transform="rotate(45 496.4 384.5)"/><ellipse cx="500.2" cy="388.3" rx="3.1" ry="2.2" transform="rotate(45 500.2 388.3)"/><ellipse cx="503.9" cy="392.0" rx="2.8" ry="2.0" transform="rotate(45 503.9 392.0)"/><ellipse cx="507.7" cy="395.8" rx="2.6" ry="2.2" transform="rotate(45 507.7 395.8)"/><ellipse cx="461.7" cy="355.6" rx="3.1" ry="2.0" transform="rotate(45 461.7 355.6)"/><ellipse cx="465.4" cy="359.3" rx="2.9" ry="2.1" transform="rotate(45 465.4 359.3)"/><ellipse cx="469.2" cy="363.1" rx="2.9" ry="1.8" transform="rotate(45 469.2 363.1)"/><ellipse cx="472.9" cy="366.8" rx="3.0" ry="2.0" transform="rotate(45 472.9 366.8)"/><ellipse cx="476.7" cy="370.6" rx="2.9" ry="2.0" transform="rotate(45 476.7 370.6)"/><ellipse cx="480.4" cy="374.3" rx="2.9" ry="2.1" transform="rotate(45 480.4 374.3)"/><ellipse cx="484.2" cy="378.1" rx="2.9" ry="2.1" transform="rotate(45 484.2 378.1)"/><ellipse cx="487.9" cy="381.8" rx="2.5" ry="1.8" transform="rotate(45 487.9 381.8)"/><ellipse cx="491.7" cy="385.6" rx="2.8" ry="2.1" transform="rotate(45 491.7 385.6)"/><ellipse cx="495.4" cy="389.3" rx="2.6" ry="2.1" transform="rotate(45 495.4 389.3)"/><ellipse cx="499.2" cy="393.1" rx="2.9" ry="1.8" transform="rotate(45 499.2 393.1)"/><ellipse cx="502.9" cy="396.8" rx="2.8" ry="1.9" transform="rotate(45 502.9 396.8)"/><ellipse cx="506.7" cy="400.6" rx="2.5" ry="1.8" transform="rotate(45 506.7 400.6)"/><ellipse cx="456.9" cy="356.6" rx="2.7" ry="1.8" transform="rotate(45 456.9 356.6)"/><ellipse cx="460.7" cy="360.4" rx="2.6" ry="1.8" transform="rotate(45 460.7 360.4)"/><ellipse cx="464.4" cy="364.1" rx="2.8" ry="1.9" transform="rotate(45 464.4 364.1)"/><ellipse cx="468.2" cy="367.9" rx="2.9" ry="2.0" transform="rotate(45 468.2 367.9)"/><ellipse cx="471.9" cy="371.6" rx="2.6" ry="2.2" transform="rotate(45 471.9 371.6)"/><ellipse cx="475.7" cy="375.4" rx="2.5" ry="2.0" transform="rotate(45 475.7 375.4)"/><ellipse cx="479.4" cy="379.1" rx="2.7" ry="2.0" transform="rotate(45 479.4 379.1)"/><ellipse cx="483.1" cy="382.8" rx="2.6" ry="2.2" transform="rotate(45 483.1 382.8)"/><ellipse cx="486.9" cy="386.6" rx="2.7" ry="1.8" transform="rotate(45 486.9 386.6)"/><ellipse cx="490.6" cy="390.3" rx="2.9" ry="1.8" transform="rotate(45 490.6 390.3)"/><ellipse cx="494.4" cy="394.1" rx="2.8" ry="1.9" transform="rotate(45 494.4 394.1)"/><ellipse cx="498.1" cy="397.8" rx="2.8" ry="2.2" transform="rotate(45 498.1 397.8)"/><ellipse cx="501.9" cy="401.6" rx="3.0" ry="2.0" transform="rotate(45 501.9 401.6)"/><ellipse cx="455.9" cy="361.4" rx="3.0" ry="2.1" transform="rotate(45 455.9 361.4)"/><ellipse cx="459.6" cy="365.1" rx="2.7" ry="1.8" transform="rotate(45 459.6 365.1)"/><ellipse cx="463.4" cy="368.9" rx="2.9" ry="2.0" transform="rotate(45 463.4 368.9)"/><ellipse cx="467.1" cy="372.6" rx="3.1" ry="2.2" transform="rotate(45 467.1 372.6)"/><ellipse cx="470.9" cy="376.4" rx="2.9" ry="1.9" transform="rotate(45 470.9 376.4)"/><ellipse cx="474.6" cy="380.1" rx="3.0" ry="1.8" transform="rotate(45 474.6 380.1)"/><ellipse cx="478.4" cy="383.9" rx="2.6" ry="2.0" transform="rotate(45 478.4 383.9)"/><ellipse cx="482.1" cy="387.6" rx="2.9" ry="1.8" transform="rotate(45 482.1 387.6)"/><ellipse cx="485.9" cy="391.4" rx="2.9" ry="2.2" transform="rotate(45 485.9 391.4)"/><ellipse cx="489.6" cy="395.1" rx="2.7" ry="2.0" transform="rotate(45 489.6 395.1)"/><ellipse cx="493.4" cy="398.9" rx="2.6" ry="1.9" transform="rotate(45 493.4 398.9)"/><ellipse cx="497.1" cy="402.6" rx="3.1" ry="1.9" transform="rotate(45 497.1 402.6)"/><ellipse cx="500.9" cy="406.4" rx="3.1" ry="2.2" transform="rotate(45 500.9 406.4)"/></g>
  <path d="M482.5,345.5 C493,350.5 503,357 508,366 C510.5,370 511.8,373.5 513,378.5" fill="none" stroke="#3a3333" stroke-width="0.9"/>
</g>
<g fill="#5a8cc6" stroke="#18202c" stroke-width="0.95"><ellipse cx="529.7" cy="357.2" rx="2.0" ry="1.25" transform="rotate(93 529.7 357.2)"/><ellipse cx="529.1" cy="361.3" rx="2.0" ry="1.25" transform="rotate(103 529.1 361.3)"/><ellipse cx="527.8" cy="365.3" rx="2.0" ry="1.25" transform="rotate(113 527.8 365.3)"/><ellipse cx="525.9" cy="368.9" rx="2.0" ry="1.25" transform="rotate(123 525.9 368.9)"/><ellipse cx="523.3" cy="372.2" rx="2.0" ry="1.25" transform="rotate(133 523.3 372.2)"/><ellipse cx="520.3" cy="374.9" rx="2.0" ry="1.25" transform="rotate(143 520.3 374.9)"/><ellipse cx="516.8" cy="377.1" rx="2.0" ry="1.25" transform="rotate(153 516.8 377.1)"/><ellipse cx="512.9" cy="378.7" rx="2.0" ry="1.25" transform="rotate(163 512.9 378.7)"/><ellipse cx="508.9" cy="379.5" rx="2.0" ry="1.25" transform="rotate(173 508.9 379.5)"/><ellipse cx="504.8" cy="379.7" rx="2.0" ry="1.25" transform="rotate(183 504.8 379.7)"/><ellipse cx="500.7" cy="379.1" rx="2.0" ry="1.25" transform="rotate(193 500.7 379.1)"/><ellipse cx="496.7" cy="377.8" rx="2.0" ry="1.25" transform="rotate(203 496.7 377.8)"/><ellipse cx="493.1" cy="375.9" rx="2.0" ry="1.25" transform="rotate(213 493.1 375.9)"/><ellipse cx="489.8" cy="373.3" rx="2.0" ry="1.25" transform="rotate(223 489.8 373.3)"/><ellipse cx="487.1" cy="370.3" rx="2.0" ry="1.25" transform="rotate(233 487.1 370.3)"/><ellipse cx="484.9" cy="366.8" rx="2.0" ry="1.25" transform="rotate(243 484.9 366.8)"/><ellipse cx="483.3" cy="362.9" rx="2.0" ry="1.25" transform="rotate(253 483.3 362.9)"/><ellipse cx="482.5" cy="358.9" rx="2.0" ry="1.25" transform="rotate(263 482.5 358.9)"/><ellipse cx="482.3" cy="354.8" rx="2.0" ry="1.25" transform="rotate(273 482.3 354.8)"/><ellipse cx="482.9" cy="350.7" rx="2.0" ry="1.25" transform="rotate(283 482.9 350.7)"/><ellipse cx="484.2" cy="346.7" rx="2.0" ry="1.25" transform="rotate(293 484.2 346.7)"/><ellipse cx="486.1" cy="343.1" rx="2.0" ry="1.25" transform="rotate(303 486.1 343.1)"/><ellipse cx="488.7" cy="339.8" rx="2.0" ry="1.25" transform="rotate(313 488.7 339.8)"/><ellipse cx="491.7" cy="337.1" rx="2.0" ry="1.25" transform="rotate(323 491.7 337.1)"/><ellipse cx="495.2" cy="334.9" rx="2.0" ry="1.25" transform="rotate(333 495.2 334.9)"/><ellipse cx="499.1" cy="333.3" rx="2.0" ry="1.25" transform="rotate(343 499.1 333.3)"/><ellipse cx="503.1" cy="332.5" rx="2.0" ry="1.25" transform="rotate(353 503.1 332.5)"/><ellipse cx="507.2" cy="332.3" rx="2.0" ry="1.25" transform="rotate(363 507.2 332.3)"/><ellipse cx="511.3" cy="332.9" rx="2.0" ry="1.25" transform="rotate(373 511.3 332.9)"/><ellipse cx="515.3" cy="334.2" rx="2.0" ry="1.25" transform="rotate(383 515.3 334.2)"/><ellipse cx="518.9" cy="336.1" rx="2.0" ry="1.25" transform="rotate(393 518.9 336.1)"/><ellipse cx="522.2" cy="338.7" rx="2.0" ry="1.25" transform="rotate(403 522.2 338.7)"/><ellipse cx="524.9" cy="341.7" rx="2.0" ry="1.25" transform="rotate(413 524.9 341.7)"/><ellipse cx="527.1" cy="345.2" rx="2.0" ry="1.25" transform="rotate(423 527.1 345.2)"/><ellipse cx="528.7" cy="349.1" rx="2.0" ry="1.25" transform="rotate(433 528.7 349.1)"/><ellipse cx="529.5" cy="353.1" rx="2.0" ry="1.25" transform="rotate(443 529.5 353.1)"/></g>

<!-- right annotations -->
<text x="718.8" y="44.8" font-size="26.9" text-anchor="middle">Leaky K36me2/3</text>
<text x="718.5" y="76" font-size="26.7" text-anchor="middle">reader</text>
<line x1="717.5" y1="84" x2="706.3" y2="103.8" stroke="#000" stroke-width="2.7"/>
<ellipse cx="701.9" cy="129" rx="56.2" ry="26" fill="url(#gB)"/>
<text x="701.7" y="138" font-size="22.1" text-anchor="middle">DNMT3B</text>
<text x="771" y="129.3" font-size="32" letter-spacing="-1.5">WT</text>
<ellipse cx="645.3" cy="175" rx="45.5" ry="21.5" fill="url(#gA)" opacity="0.9"/>
<text x="645" y="182" font-size="17.8" text-anchor="middle">DNMT3A</text>
<text x="732.3" y="207.4" font-size="26.6"><tspan font-style="italic">Nsd1</tspan> KO</text>

<ellipse cx="722" cy="251.5" rx="44.8" ry="19.8" fill="url(#gB)"/>
<text x="722.5" y="257.7" font-size="17.6" text-anchor="middle">DNMT3B</text>
<text x="772.3" y="259.7" font-size="31" letter-spacing="-1.2">WT</text>
<ellipse cx="664.4" cy="276.5" rx="34" ry="16" fill="url(#gA)" opacity="0.93"/>
<text x="665.5" y="282.3" font-size="13.2" text-anchor="middle">DNMT3A</text>
<text x="732.8" y="345.3" font-size="26.6"><tspan font-style="italic">Nsd1</tspan> KO</text>

<!-- Epi figure -->
<path d="M942.7,69.8 L944.1,69.9 L945.5,70.1 L946.9,70.5 L948.3,71.0 L949.7,71.6 L951.1,72.2 L952.5,72.9 L953.9,73.6 L955.2,74.4 L956.5,75.2 L957.6,76.1 L958.7,77.1 L959.6,78.2 L960.5,79.4 L961.3,80.6 L961.9,81.9 L962.5,83.2 L963.0,84.6 L963.4,85.9 L963.7,87.3 L964.0,88.8 L964.2,90.2 L964.4,91.6 L964.5,93.1 L964.5,94.6 L964.5,96.1 L964.5,97.6 L964.5,99.1 L964.5,100.6 L964.4,102.1 L964.3,103.6 L964.3,105.1 L964.2,106.7 L964.2,108.2 L964.1,109.7 L964.1,111.1 L964.2,112.6 L964.2,114.1 L964.2,115.6 L964.3,117.0 L964.4,118.5 L964.5,120.0 L964.6,121.4 L964.7,122.9 L964.8,124.3 L964.9,125.7 L965.0,127.2 L965.1,128.6 L965.2,130.1 L965.3,131.5 L965.4,133.0 L965.5,134.4 L965.6,135.8 L965.7,137.3 L965.8,138.8 L965.9,140.2 L965.9,141.7 L965.9,143.2 L965.9,144.7 L965.9,146.2 L965.9,147.7 L965.8,149.2 L965.7,150.8 L965.6,152.3 L965.5,153.9 L965.3,155.4 L965.1,157.0 L964.8,158.5 L964.4,160.0 L964.0,161.4 L963.5,162.8 L962.9,164.2 L962.3,165.4 L961.5,166.6 L960.7,167.7 L959.7,168.8 L958.7,169.7 L957.6,170.6 L956.4,171.4 L955.2,172.1 L953.9,172.8 L952.6,173.4 L951.2,173.9 L949.7,174.4 L948.3,174.9 L946.8,175.3 L945.3,175.6 L943.8,175.9 L942.3,176.2 L940.7,176.5 L939.2,176.7 L937.7,176.8 L936.2,177.0 L934.7,177.0 L933.2,177.1 L931.7,177.1 L930.2,177.0 L928.7,176.9 L927.3,176.7 L925.8,176.4 L924.4,176.1 L923.0,175.7 L921.6,175.2 L920.3,174.6 L918.9,174.0 L917.6,173.3 L916.4,172.6 L915.1,171.8 L914.0,170.9 L912.8,170.0 L911.7,169.0 L910.7,168.0 L909.7,166.9 L908.8,165.8 L908.0,164.6 L907.2,163.3 L906.5,162.1 L905.9,160.7 L905.4,159.4 L904.9,158.0 L904.5,156.6 L904.2,155.1 L904.0,153.6 L903.8,152.1 L903.6,150.6 L903.5,149.1 L903.5,147.6 L903.5,146.0 L903.5,144.5 L903.6,143.0 L903.7,141.4 L903.8,139.9 L903.9,138.4 L904.0,136.9 L904.2,135.4 L904.3,133.9 L904.5,132.5 L904.7,131.0 L904.9,129.6 L905.1,128.1 L905.3,126.7 L905.6,125.2 L905.8,123.8 L906.0,122.4 L906.3,120.9 L906.6,119.5 L906.8,118.1 L907.1,116.6 L907.4,115.2 L907.7,113.8 L907.9,112.4 L908.2,110.9 L908.5,109.5 L908.8,108.1 L909.1,106.6 L909.4,105.2 L909.6,103.7 L909.9,102.3 L910.2,100.8 L910.4,99.3 L910.7,97.9 L910.9,96.4 L911.2,94.9 L911.5,93.4 L911.8,91.9 L912.1,90.5 L912.4,89.0 L912.8,87.6 L913.2,86.1 L913.6,84.7 L914.2,83.4 L914.7,82.0 L915.4,80.8 L916.1,79.5 L917.0,78.3 L917.9,77.2 L918.9,76.1 L920.0,75.2 L921.1,74.4 L922.4,73.8 L923.8,73.3 L925.2,73.0 L926.7,72.7 L928.2,72.5 L929.7,72.3 L931.2,72.1 L932.8,71.9 L934.3,71.6 L935.7,71.3 L937.1,70.9 L938.5,70.5 L939.9,70.1 L941.3,69.9 Z" fill="#c9c9c9"/>
<path d="M929.0,96.0 L929.9,95.0 L931.0,94.1 L932.3,93.5 L933.8,93.1 L935.3,93.0 L936.9,93.0 L938.4,93.3 L939.8,93.8 L941.0,94.4 L942.1,95.3 L943.1,96.3 L944.0,97.5 L944.7,98.7 L945.4,100.0 L946.0,101.4 L946.8,102.7 L947.6,104.0 L948.5,105.3 L949.3,106.5 L949.9,107.7 L950.3,108.9 L950.4,110.1 L950.1,111.2 L949.4,112.2 L948.5,113.1 L947.4,114.0 L946.0,114.8 L944.6,115.6 L943.2,116.3 L941.7,117.1 L940.4,118.0 L939.1,118.9 L938.1,120.0 L937.3,121.2 L936.9,122.5 L936.6,123.8 L936.7,125.2 L937.0,126.6 L937.5,128.0 L938.2,129.4 L939.0,130.7 L939.9,131.9 L940.9,133.0 L941.9,134.1 L942.9,135.1 L943.9,136.1 L945.0,137.1 L945.9,138.2 L946.9,139.3 L947.7,140.5 L948.5,141.7 L949.2,143.0 L949.7,144.4 L950.2,145.9 L950.5,147.4 L950.7,148.9 L950.7,150.4 L950.7,151.8 L950.4,153.3 L950.1,154.6 L949.5,156.0 L948.8,157.2 L947.9,158.3 L946.9,159.3 L945.7,160.2 L944.4,161.0 L943.0,161.6 L941.5,162.0 L940.0,162.3 L938.4,162.5 L936.9,162.4 L935.4,162.3 L934.0,161.9 L932.6,161.5 L931.3,160.9 L930.0,160.2 L928.8,159.3 L927.7,158.4 L926.7,157.4 L925.9,156.2 L925.2,155.0 L924.6,153.7 L924.1,152.4 L923.8,151.0 L923.5,149.6 L923.4,148.1 L923.2,146.6 L923.2,145.1 L923.1,143.5 L923.1,142.0 L923.1,140.5 L923.0,139.0 L923.0,137.5 L923.0,136.0 L922.9,134.5 L922.9,133.1 L922.9,131.6 L922.9,130.2 L922.9,128.7 L922.9,127.3 L923.0,125.8 L923.0,124.4 L923.1,123.0 L923.2,121.5 L923.3,120.1 L923.5,118.7 L923.7,117.3 L923.9,115.9 L924.1,114.5 L924.4,113.0 L924.7,111.6 L925.1,110.2 L925.5,108.8 L925.9,107.4 L926.3,105.9 L926.8,104.5 L927.2,103.1 L927.5,101.6 L927.8,100.1 L928.1,98.6 L928.5,97.2 Z" fill="#fff"/>
<g clip-path="url(#clipEpi)">
<path d="M909.4,117.1 L908.9,118.3 L908.8,119.8 L908.9,121.3 L909.0,122.9 L909.1,124.4 L909.0,125.9 L909.0,127.4 L908.8,128.8 L908.7,130.2 L908.5,131.7 L908.3,133.1 L908.1,134.5 L907.8,136.0 L907.6,137.4 L907.4,138.8 L907.2,140.3 L907.0,141.8 L906.9,143.3 L906.8,144.8 L906.7,146.3 L906.7,147.9 L906.8,149.4 L906.8,150.9 L907.0,152.5 L907.2,154.0 L907.4,155.4 L907.7,156.9 L908.1,158.3 L908.5,159.7 L909.0,161.1 L909.6,162.4 L910.2,163.6 L911.0,164.8 L911.8,166.0 L912.6,167.0 L913.6,168.0 L914.6,168.9 L915.7,169.8 L916.9,170.5 L918.1,171.2 L919.4,171.8 L920.8,172.4 L922.2,172.9 L923.6,173.3 L925.0,173.7 L926.5,173.9 L928.0,174.2 L929.6,174.3 L931.1,174.4 L932.7,174.4 L934.2,174.3 L935.8,174.2 L937.4,174.0 L938.9,173.8 L940.4,173.5 L941.9,173.1 L943.4,172.6 L944.9,172.1 L946.3,171.6 L947.6,170.9 L949.0,170.2 L950.2,169.5 L951.5,168.6 L952.6,167.8 L953.7,166.8 L954.7,165.8 L955.7,164.8 L956.6,163.7 L957.4,162.6 L958.1,161.4 L958.7,160.1 L959.3,158.8 L959.7,157.5 L960.1,156.1 L960.3,154.7 L960.4,153.2 L960.5,151.7 L960.4,150.2 L960.2,148.7 L960.0,147.1 L959.7,145.6 L959.3,144.1 L958.8,142.6 L958.3,141.1 L957.8,139.7 L957.2,138.4 L956.6,137.1 L955.9,135.8 L955.2,134.5 L954.4,133.3 L953.6,132.1 L952.8,130.9 L952.0,129.7 L951.1,128.5 L950.3,127.3 L949.6,126.0 L949.1,124.7 L948.9,123.3 L948.8,121.8 L948.7,120.3 L948.6,118.9 L948.2,117.6 L947.5,116.5 L946.5,115.7 L945.2,115.1 L943.7,114.8 L942.1,114.7 L940.5,115.0 L939.0,115.5 L937.6,116.3 L936.5,117.2 L935.6,118.3 L935.1,119.4 L934.9,120.7 L935.0,122.0 L935.3,123.4 L935.8,124.8 L936.4,126.3 L937.2,127.7 L938.1,129.1 L939.1,130.5 L940.1,131.8 L941.1,133.1 L942.1,134.3 L943.1,135.5 L944.1,136.6 L945.1,137.7 L946.0,138.8 L946.9,139.9 L947.7,141.0 L948.4,142.1 L949.1,143.3 L949.6,144.5 L950.1,145.7 L950.4,147.0 L950.7,148.4 L950.7,149.8 L950.7,151.4 L950.4,152.9 L950.1,154.5 L949.5,156.0 L948.8,157.4 L947.9,158.7 L946.8,159.7 L945.6,160.6 L944.3,161.3 L942.8,161.8 L941.3,162.2 L939.7,162.4 L938.1,162.5 L936.5,162.4 L935.0,162.1 L933.5,161.7 L932.0,161.3 L930.7,160.6 L929.5,159.9 L928.4,159.1 L927.5,158.2 L926.6,157.1 L925.9,156.0 L925.2,154.8 L924.7,153.6 L924.2,152.2 L923.9,150.8 L923.6,149.3 L923.4,147.8 L923.3,146.2 L923.2,144.6 L923.2,143.0 L923.3,141.3 L923.4,139.6 L923.6,137.9 L923.7,136.1 L923.9,134.4 L924.1,132.7 L924.3,131.0 L924.5,129.4 L924.6,127.8 L924.7,126.2 L924.7,124.7 L924.6,123.3 L924.5,121.9 L924.2,120.7 L923.9,119.5 L923.4,118.5 L922.8,117.5 L922.0,116.7 L921.0,116.1 L919.9,115.5 L918.6,115.2 L917.1,115.0 L915.4,114.9 L913.6,115.1 L911.9,115.5 L910.4,116.2 Z" fill="#f5c19d"/>
<g clip-path="url(#clipEpiBand)" fill="none" stroke-linejoin="round">
<path d="M916.2,117.0 L916.1,118.4 L916.0,120.0 L915.8,121.6 L915.7,123.5 L915.5,125.4 L915.3,127.4 L915.1,129.4 L914.9,131.6 L914.8,133.8 L914.6,136.0 L914.5,138.3 L914.5,140.5 L914.5,142.8 L914.6,145.1 L914.7,147.3 L914.9,149.5 L915.2,151.6 L915.6,153.7 L916.1,155.7 L916.7,157.5 L917.5,159.3 L918.4,161.0 L919.4,162.5 L920.5,163.9 L921.8,165.1 L923.3,166.2 L924.9,167.1 L926.7,167.8 L928.6,168.3 L930.5,168.7 L932.5,168.9 L934.6,168.9 L936.6,168.8 L938.6,168.5 L940.6,168.1 L942.6,167.5 L944.4,166.7 L946.1,165.9 L947.7,164.8 L949.1,163.7 L950.4,162.4 L951.5,161.0 L952.4,159.5 L953.2,157.8 L953.8,156.1 L954.2,154.4 L954.5,152.6 L954.6,150.7 L954.6,148.8 L954.4,146.8 L954.1,144.9 L953.6,142.9 L953.0,140.9 L952.2,139.0 L951.3,137.1 L950.3,135.1 L949.3,133.2 L948.2,131.4 L947.2,129.5 L946.1,127.7 L945.1,125.9 L944.2,124.1 L943.4,122.3 L942.7,120.6 L942.1,118.9 L941.7,117.3" stroke="#f7caa9" stroke-width="12"/>
<path d="M916.2,117.0 L916.1,118.4 L916.0,120.0 L915.8,121.6 L915.7,123.5 L915.5,125.4 L915.3,127.4 L915.1,129.4 L914.9,131.6 L914.8,133.8 L914.6,136.0 L914.5,138.3 L914.5,140.5 L914.5,142.8 L914.6,145.1 L914.7,147.3 L914.9,149.5 L915.2,151.6 L915.6,153.7 L916.1,155.7 L916.7,157.5 L917.5,159.3 L918.4,161.0 L919.4,162.5 L920.5,163.9 L921.8,165.1 L923.3,166.2 L924.9,167.1 L926.7,167.8 L928.6,168.3 L930.5,168.7 L932.5,168.9 L934.6,168.9 L936.6,168.8 L938.6,168.5 L940.6,168.1 L942.6,167.5 L944.4,166.7 L946.1,165.9 L947.7,164.8 L949.1,163.7 L950.4,162.4 L951.5,161.0 L952.4,159.5 L953.2,157.8 L953.8,156.1 L954.2,154.4 L954.5,152.6 L954.6,150.7 L954.6,148.8 L954.4,146.8 L954.1,144.9 L953.6,142.9 L953.0,140.9 L952.2,139.0 L951.3,137.1 L950.3,135.1 L949.3,133.2 L948.2,131.4 L947.2,129.5 L946.1,127.7 L945.1,125.9 L944.2,124.1 L943.4,122.3 L942.7,120.6 L942.1,118.9 L941.7,117.3" stroke="#f8d3b9" stroke-width="9"/>
<path d="M916.2,117.0 L916.1,118.4 L916.0,120.0 L915.8,121.6 L915.7,123.5 L915.5,125.4 L915.3,127.4 L915.1,129.4 L914.9,131.6 L914.8,133.8 L914.6,136.0 L914.5,138.3 L914.5,140.5 L914.5,142.8 L914.6,145.1 L914.7,147.3 L914.9,149.5 L915.2,151.6 L915.6,153.7 L916.1,155.7 L916.7,157.5 L917.5,159.3 L918.4,161.0 L919.4,162.5 L920.5,163.9 L921.8,165.1 L923.3,166.2 L924.9,167.1 L926.7,167.8 L928.6,168.3 L930.5,168.7 L932.5,168.9 L934.6,168.9 L936.6,168.8 L938.6,168.5 L940.6,168.1 L942.6,167.5 L944.4,166.7 L946.1,165.9 L947.7,164.8 L949.1,163.7 L950.4,162.4 L951.5,161.0 L952.4,159.5 L953.2,157.8 L953.8,156.1 L954.2,154.4 L954.5,152.6 L954.6,150.7 L954.6,148.8 L954.4,146.8 L954.1,144.9 L953.6,142.9 L953.0,140.9 L952.2,139.0 L951.3,137.1 L950.3,135.1 L949.3,133.2 L948.2,131.4 L947.2,129.5 L946.1,127.7 L945.1,125.9 L944.2,124.1 L943.4,122.3 L942.7,120.6 L942.1,118.9 L941.7,117.3" stroke="#fadcc8" stroke-width="6"/>
<path d="M916.2,117.0 L916.1,118.4 L916.0,120.0 L915.8,121.6 L915.7,123.5 L915.5,125.4 L915.3,127.4 L915.1,129.4 L914.9,131.6 L914.8,133.8 L914.6,136.0 L914.5,138.3 L914.5,140.5 L914.5,142.8 L914.6,145.1 L914.7,147.3 L914.9,149.5 L915.2,151.6 L915.6,153.7 L916.1,155.7 L916.7,157.5 L917.5,159.3 L918.4,161.0 L919.4,162.5 L920.5,163.9 L921.8,165.1 L923.3,166.2 L924.9,167.1 L926.7,167.8 L928.6,168.3 L930.5,168.7 L932.5,168.9 L934.6,168.9 L936.6,168.8 L938.6,168.5 L940.6,168.1 L942.6,167.5 L944.4,166.7 L946.1,165.9 L947.7,164.8 L949.1,163.7 L950.4,162.4 L951.5,161.0 L952.4,159.5 L953.2,157.8 L953.8,156.1 L954.2,154.4 L954.5,152.6 L954.6,150.7 L954.6,148.8 L954.4,146.8 L954.1,144.9 L953.6,142.9 L953.0,140.9 L952.2,139.0 L951.3,137.1 L950.3,135.1 L949.3,133.2 L948.2,131.4 L947.2,129.5 L946.1,127.7 L945.1,125.9 L944.2,124.1 L943.4,122.3 L942.7,120.6 L942.1,118.9 L941.7,117.3" stroke="#fce6d9" stroke-width="3"/>
<path d="M916.2,117.0 L916.1,118.4 L916.0,120.0 L915.8,121.6 L915.7,123.5 L915.5,125.4 L915.3,127.4 L915.1,129.4 L914.9,131.6 L914.8,133.8 L914.6,136.0 L914.5,138.3 L914.5,140.5 L914.5,142.8 L914.6,145.1 L914.7,147.3 L914.9,149.5 L915.2,151.6 L915.6,153.7 L916.1,155.7 L916.7,157.5 L917.5,159.3 L918.4,161.0 L919.4,162.5 L920.5,163.9 L921.8,165.1 L923.3,166.2 L924.9,167.1 L926.7,167.8 L928.6,168.3 L930.5,168.7 L932.5,168.9 L934.6,168.9 L936.6,168.8 L938.6,168.5 L940.6,168.1 L942.6,167.5 L944.4,166.7 L946.1,165.9 L947.7,164.8 L949.1,163.7 L950.4,162.4 L951.5,161.0 L952.4,159.5 L953.2,157.8 L953.8,156.1 L954.2,154.4 L954.5,152.6 L954.6,150.7 L954.6,148.8 L954.4,146.8 L954.1,144.9 L953.6,142.9 L953.0,140.9 L952.2,139.0 L951.3,137.1 L950.3,135.1 L949.3,133.2 L948.2,131.4 L947.2,129.5 L946.1,127.7 L945.1,125.9 L944.2,124.1 L943.4,122.3 L942.7,120.6 L942.1,118.9 L941.7,117.3" stroke="#ffffff" stroke-width="16" stroke-dasharray="1 1.7" opacity="0.28"/>
</g></g>
<rect x="901.4" y="121.8" width="66.8" height="55.3" fill="none" stroke="#000" stroke-width="1.6"/>
<text x="855.8" y="93.5" font-size="25.7" font-weight="bold">Epi</text>
<line x1="884.6" y1="102.6" x2="914.4" y2="154.7" stroke="#000" stroke-width="2.2"/>

<!-- ExE figure -->
<path d="M941.3,251.3 L942.8,251.5 L944.3,251.7 L945.8,252.0 L947.3,252.4 L948.7,252.8 L950.1,253.3 L951.5,253.9 L952.8,254.5 L954.1,255.2 L955.3,256.0 L956.5,256.8 L957.6,257.7 L958.6,258.7 L959.6,259.8 L960.4,260.9 L961.2,262.1 L962.0,263.3 L962.6,264.6 L963.2,266.0 L963.7,267.4 L964.1,268.8 L964.5,270.2 L964.8,271.7 L965.0,273.2 L965.2,274.6 L965.4,276.1 L965.4,277.6 L965.5,279.2 L965.5,280.7 L965.5,282.2 L965.5,283.7 L965.5,285.2 L965.4,286.7 L965.4,288.2 L965.4,289.7 L965.3,291.1 L965.3,292.6 L965.3,294.1 L965.3,295.5 L965.4,296.9 L965.4,298.4 L965.4,299.8 L965.5,301.2 L965.5,302.7 L965.6,304.1 L965.6,305.6 L965.7,307.1 L965.7,308.5 L965.7,310.0 L965.8,311.5 L965.8,313.0 L965.8,314.6 L965.8,316.1 L965.7,317.6 L965.7,319.1 L965.6,320.7 L965.5,322.2 L965.4,323.7 L965.2,325.2 L965.0,326.7 L964.8,328.2 L964.6,329.6 L964.3,331.1 L963.9,332.5 L963.6,333.9 L963.1,335.3 L962.7,336.7 L962.1,338.1 L961.6,339.4 L960.9,340.7 L960.3,341.9 L959.5,343.2 L958.7,344.4 L957.8,345.5 L956.9,346.6 L955.9,347.7 L954.9,348.8 L953.8,349.7 L952.7,350.7 L951.6,351.6 L950.3,352.4 L949.1,353.2 L947.8,354.0 L946.5,354.7 L945.1,355.3 L943.7,355.9 L942.3,356.4 L940.9,356.9 L939.4,357.2 L937.9,357.6 L936.4,357.8 L934.9,358.0 L933.4,358.1 L931.9,358.2 L930.3,358.1 L928.8,358.1 L927.3,357.9 L925.8,357.7 L924.3,357.3 L922.9,357.0 L921.5,356.5 L920.1,356.0 L918.8,355.4 L917.5,354.7 L916.2,354.0 L915.1,353.2 L913.9,352.3 L912.9,351.3 L911.9,350.3 L911.0,349.2 L910.1,348.1 L909.3,346.8 L908.6,345.6 L908.0,344.3 L907.3,342.9 L906.8,341.5 L906.3,340.1 L905.8,338.7 L905.4,337.3 L905.0,335.8 L904.7,334.3 L904.4,332.8 L904.1,331.4 L903.9,329.9 L903.7,328.4 L903.5,326.8 L903.3,325.3 L903.2,323.8 L903.1,322.4 L902.9,320.9 L902.9,319.4 L902.8,317.9 L902.8,316.4 L902.7,315.0 L902.8,313.5 L902.8,312.1 L902.9,310.6 L903.1,309.2 L903.2,307.8 L903.5,306.3 L903.7,304.9 L904.0,303.5 L904.3,302.1 L904.7,300.7 L905.0,299.2 L905.4,297.8 L905.8,296.4 L906.1,295.0 L906.5,293.6 L906.8,292.1 L907.1,290.7 L907.5,289.2 L907.8,287.8 L908.1,286.3 L908.4,284.9 L908.7,283.4 L909.0,281.9 L909.3,280.5 L909.6,279.0 L910.0,277.5 L910.3,276.1 L910.7,274.6 L911.0,273.1 L911.4,271.7 L911.9,270.2 L912.3,268.8 L912.8,267.4 L913.3,266.0 L913.9,264.7 L914.6,263.4 L915.3,262.2 L916.0,261.0 L916.9,259.9 L917.8,258.8 L918.8,257.8 L919.9,256.9 L921.1,256.1 L922.3,255.3 L923.6,254.6 L924.9,253.9 L926.2,253.4 L927.6,252.9 L929.1,252.4 L930.6,252.1 L932.1,251.8 L933.6,251.5 L935.1,251.3 L936.7,251.2 L938.2,251.2 L939.7,251.2 Z" fill="#c9c9c9"/>
<path d="M935.0,274.9 L936.5,275.0 L937.9,275.3 L939.2,275.8 L940.4,276.5 L941.5,277.4 L942.5,278.4 L943.4,279.6 L944.3,280.8 L945.2,282.1 L946.2,283.4 L947.2,284.7 L948.3,285.9 L949.2,287.2 L950.0,288.4 L950.5,289.6 L950.7,290.8 L950.6,291.9 L950.0,293.1 L949.2,294.1 L948.1,295.2 L946.9,296.1 L945.5,296.9 L944.1,297.7 L942.7,298.4 L941.4,299.2 L940.2,300.0 L939.1,301.0 L938.2,302.1 L937.5,303.3 L936.9,304.6 L936.5,306.0 L936.3,307.4 L936.2,308.8 L936.3,310.3 L936.6,311.7 L937.0,313.1 L937.6,314.4 L938.3,315.7 L939.2,316.9 L940.2,318.1 L941.2,319.2 L942.3,320.3 L943.4,321.4 L944.5,322.5 L945.6,323.6 L946.6,324.8 L947.5,325.9 L948.4,327.1 L949.1,328.3 L949.6,329.5 L950.0,330.9 L950.1,332.2 L950.1,333.6 L949.9,335.0 L949.6,336.4 L949.1,337.7 L948.4,339.0 L947.6,340.2 L946.6,341.3 L945.6,342.3 L944.3,343.1 L943.0,343.8 L941.5,344.3 L940.0,344.6 L938.4,344.8 L936.8,344.8 L935.3,344.7 L933.8,344.4 L932.3,344.0 L931.0,343.4 L929.8,342.7 L928.6,341.8 L927.6,340.9 L926.8,339.8 L926.0,338.6 L925.4,337.3 L924.9,335.9 L924.5,334.4 L924.2,332.9 L923.9,331.4 L923.7,329.8 L923.5,328.3 L923.4,326.8 L923.2,325.3 L923.1,323.8 L923.1,322.4 L923.0,320.9 L923.0,319.5 L923.0,318.1 L923.0,316.6 L923.1,315.2 L923.1,313.8 L923.2,312.4 L923.3,311.0 L923.4,309.6 L923.5,308.2 L923.6,306.8 L923.8,305.3 L923.9,303.9 L924.0,302.5 L924.2,301.1 L924.4,299.6 L924.5,298.2 L924.7,296.7 L924.9,295.3 L925.0,293.8 L925.2,292.3 L925.3,290.8 L925.5,289.3 L925.6,287.7 L925.8,286.2 L926.0,284.6 L926.3,283.2 L926.7,281.7 L927.2,280.4 L927.8,279.1 L928.6,278.0 L929.6,277.0 L930.8,276.2 L932.2,275.5 L933.6,275.1 Z" fill="#fff"/>
<g clip-path="url(#clipExE)">
<path d="M909.6,309.8 L909.2,308.7 L909.1,307.3 L909.3,305.8 L909.6,304.2 L909.8,302.7 L910.0,301.1 L910.2,299.6 L910.4,298.1 L910.6,296.7 L910.8,295.2 L911.0,293.8 L911.1,292.3 L911.4,290.9 L911.6,289.5 L911.9,288.1 L912.2,286.7 L912.5,285.3 L912.8,283.9 L913.2,282.5 L913.6,281.1 L913.9,279.6 L914.3,278.2 L914.7,276.7 L915.0,275.3 L915.3,273.8 L915.6,272.3 L915.9,270.8 L916.2,269.3 L916.6,267.8 L917.0,266.4 L917.4,264.9 L917.9,263.6 L918.5,262.3 L919.2,261.1 L920.0,259.9 L920.9,258.9 L921.9,257.9 L923.0,257.0 L924.2,256.2 L925.4,255.5 L926.7,254.8 L928.1,254.3 L929.6,253.8 L931.1,253.4 L932.6,253.1 L934.1,252.9 L935.7,252.8 L937.2,252.7 L938.8,252.7 L940.4,252.9 L941.9,253.0 L943.5,253.3 L944.9,253.7 L946.4,254.1 L947.8,254.6 L949.2,255.2 L950.4,255.9 L951.6,256.6 L952.8,257.4 L953.8,258.3 L954.8,259.3 L955.7,260.3 L956.6,261.4 L957.3,262.6 L958.0,263.8 L958.7,265.1 L959.3,266.4 L959.8,267.7 L960.3,269.2 L960.8,270.6 L961.2,272.1 L961.5,273.6 L961.8,275.1 L962.1,276.6 L962.3,278.2 L962.5,279.8 L962.6,281.4 L962.6,282.9 L962.6,284.5 L962.6,286.0 L962.4,287.5 L962.2,289.0 L962.0,290.4 L961.6,291.8 L961.2,293.2 L960.6,294.4 L960.0,295.6 L959.3,296.8 L958.5,297.8 L957.6,298.8 L956.6,299.8 L955.6,300.7 L954.5,301.6 L953.4,302.5 L952.3,303.4 L951.1,304.4 L950.0,305.4 L948.8,306.5 L947.6,307.5 L946.4,308.5 L945.1,309.5 L943.8,310.4 L942.4,311.1 L941.0,311.6 L939.7,311.7 L938.6,311.4 L937.7,310.6 L937.0,309.5 L936.5,308.2 L936.4,306.8 L936.4,305.3 L936.8,304.0 L937.5,302.7 L938.4,301.6 L939.5,300.6 L940.8,299.7 L942.2,298.9 L943.6,298.0 L945.0,297.2 L946.4,296.3 L947.7,295.4 L948.9,294.4 L949.8,293.4 L950.4,292.3 L950.7,291.2 L950.6,290.1 L950.1,288.9 L949.4,287.7 L948.5,286.4 L947.5,285.1 L946.4,283.8 L945.5,282.5 L944.6,281.1 L943.7,279.8 L942.9,278.6 L941.9,277.5 L940.8,276.6 L939.6,275.9 L938.2,275.4 L936.7,275.1 L935.2,275.1 L933.7,275.2 L932.2,275.5 L930.9,276.1 L929.7,276.8 L928.7,277.7 L927.9,278.9 L927.3,280.1 L926.9,281.5 L926.6,283.0 L926.3,284.6 L926.1,286.1 L925.9,287.7 L925.7,289.3 L925.4,290.8 L925.0,292.2 L924.7,293.6 L924.3,295.0 L924.1,296.5 L923.9,297.9 L923.7,299.4 L923.8,301.0 L923.9,302.6 L924.0,304.2 L924.1,305.7 L924.1,307.2 L923.8,308.5 L923.3,309.6 L922.5,310.6 L921.3,311.3 L919.9,311.8 L918.4,312.0 L916.7,312.2 L914.9,312.1 L913.3,311.9 L911.8,311.4 L910.5,310.8 Z" fill="#58a4ef"/>
<g clip-path="url(#clipExEBand)" fill="none" stroke-linejoin="round">
<path d="M916.6,310.0 L917.0,308.7 L917.3,307.2 L917.6,305.6 L917.8,303.8 L917.9,301.9 L918.0,299.9 L918.2,297.8 L918.3,295.6 L918.4,293.4 L918.5,291.1 L918.6,288.8 L918.8,286.5 L919.1,284.2 L919.4,282.0 L919.8,279.8 L920.3,277.7 L920.8,275.6 L921.5,273.7 L922.3,271.9 L923.2,270.3 L924.3,268.8 L925.6,267.5 L927.0,266.4 L928.5,265.5 L930.2,264.8 L932.0,264.3 L933.8,263.9 L935.8,263.8 L937.7,263.9 L939.6,264.1 L941.5,264.5 L943.4,265.1 L945.2,265.9 L946.8,266.8 L948.4,267.9 L949.8,269.2 L951.0,270.6 L952.0,272.1 L952.9,273.7 L953.7,275.5 L954.2,277.3 L954.6,279.2 L954.9,281.1 L955.0,283.1 L954.9,285.0 L954.6,287.0 L954.1,288.9 L953.5,290.8 L952.8,292.7 L951.8,294.4 L950.7,296.1 L949.5,297.8 L948.2,299.3 L946.9,300.9 L945.5,302.4 L944.2,303.8 L942.9,305.3 L941.6,306.7 L940.5,308.1 L939.5,309.6" stroke="#6caef0" stroke-width="15"/>
<path d="M916.6,310.0 L917.0,308.7 L917.3,307.2 L917.6,305.6 L917.8,303.8 L917.9,301.9 L918.0,299.9 L918.2,297.8 L918.3,295.6 L918.4,293.4 L918.5,291.1 L918.6,288.8 L918.8,286.5 L919.1,284.2 L919.4,282.0 L919.8,279.8 L920.3,277.7 L920.8,275.6 L921.5,273.7 L922.3,271.9 L923.2,270.3 L924.3,268.8 L925.6,267.5 L927.0,266.4 L928.5,265.5 L930.2,264.8 L932.0,264.3 L933.8,263.9 L935.8,263.8 L937.7,263.9 L939.6,264.1 L941.5,264.5 L943.4,265.1 L945.2,265.9 L946.8,266.8 L948.4,267.9 L949.8,269.2 L951.0,270.6 L952.0,272.1 L952.9,273.7 L953.7,275.5 L954.2,277.3 L954.6,279.2 L954.9,281.1 L955.0,283.1 L954.9,285.0 L954.6,287.0 L954.1,288.9 L953.5,290.8 L952.8,292.7 L951.8,294.4 L950.7,296.1 L949.5,297.8 L948.2,299.3 L946.9,300.9 L945.5,302.4 L944.2,303.8 L942.9,305.3 L941.6,306.7 L940.5,308.1 L939.5,309.6" stroke="#86bcf3" stroke-width="11"/>
<path d="M916.6,310.0 L917.0,308.7 L917.3,307.2 L917.6,305.6 L917.8,303.8 L917.9,301.9 L918.0,299.9 L918.2,297.8 L918.3,295.6 L918.4,293.4 L918.5,291.1 L918.6,288.8 L918.8,286.5 L919.1,284.2 L919.4,282.0 L919.8,279.8 L920.3,277.7 L920.8,275.6 L921.5,273.7 L922.3,271.9 L923.2,270.3 L924.3,268.8 L925.6,267.5 L927.0,266.4 L928.5,265.5 L930.2,264.8 L932.0,264.3 L933.8,263.9 L935.8,263.8 L937.7,263.9 L939.6,264.1 L941.5,264.5 L943.4,265.1 L945.2,265.9 L946.8,266.8 L948.4,267.9 L949.8,269.2 L951.0,270.6 L952.0,272.1 L952.9,273.7 L953.7,275.5 L954.2,277.3 L954.6,279.2 L954.9,281.1 L955.0,283.1 L954.9,285.0 L954.6,287.0 L954.1,288.9 L953.5,290.8 L952.8,292.7 L951.8,294.4 L950.7,296.1 L949.5,297.8 L948.2,299.3 L946.9,300.9 L945.5,302.4 L944.2,303.8 L942.9,305.3 L941.6,306.7 L940.5,308.1 L939.5,309.6" stroke="#a3cbf5" stroke-width="7.5"/>
<path d="M916.6,310.0 L917.0,308.7 L917.3,307.2 L917.6,305.6 L917.8,303.8 L917.9,301.9 L918.0,299.9 L918.2,297.8 L918.3,295.6 L918.4,293.4 L918.5,291.1 L918.6,288.8 L918.8,286.5 L919.1,284.2 L919.4,282.0 L919.8,279.8 L920.3,277.7 L920.8,275.6 L921.5,273.7 L922.3,271.9 L923.2,270.3 L924.3,268.8 L925.6,267.5 L927.0,266.4 L928.5,265.5 L930.2,264.8 L932.0,264.3 L933.8,263.9 L935.8,263.8 L937.7,263.9 L939.6,264.1 L941.5,264.5 L943.4,265.1 L945.2,265.9 L946.8,266.8 L948.4,267.9 L949.8,269.2 L951.0,270.6 L952.0,272.1 L952.9,273.7 L953.7,275.5 L954.2,277.3 L954.6,279.2 L954.9,281.1 L955.0,283.1 L954.9,285.0 L954.6,287.0 L954.1,288.9 L953.5,290.8 L952.8,292.7 L951.8,294.4 L950.7,296.1 L949.5,297.8 L948.2,299.3 L946.9,300.9 L945.5,302.4 L944.2,303.8 L942.9,305.3 L941.6,306.7 L940.5,308.1 L939.5,309.6" stroke="#c0dbf8" stroke-width="4.5"/>
<path d="M916.6,310.0 L917.0,308.7 L917.3,307.2 L917.6,305.6 L917.8,303.8 L917.9,301.9 L918.0,299.9 L918.2,297.8 L918.3,295.6 L918.4,293.4 L918.5,291.1 L918.6,288.8 L918.8,286.5 L919.1,284.2 L919.4,282.0 L919.8,279.8 L920.3,277.7 L920.8,275.6 L921.5,273.7 L922.3,271.9 L923.2,270.3 L924.3,268.8 L925.6,267.5 L927.0,266.4 L928.5,265.5 L930.2,264.8 L932.0,264.3 L933.8,263.9 L935.8,263.8 L937.7,263.9 L939.6,264.1 L941.5,264.5 L943.4,265.1 L945.2,265.9 L946.8,266.8 L948.4,267.9 L949.8,269.2 L951.0,270.6 L952.0,272.1 L952.9,273.7 L953.7,275.5 L954.2,277.3 L954.6,279.2 L954.9,281.1 L955.0,283.1 L954.9,285.0 L954.6,287.0 L954.1,288.9 L953.5,290.8 L952.8,292.7 L951.8,294.4 L950.7,296.1 L949.5,297.8 L948.2,299.3 L946.9,300.9 L945.5,302.4 L944.2,303.8 L942.9,305.3 L941.6,306.7 L940.5,308.1 L939.5,309.6" stroke="#d8e9fb" stroke-width="2"/>
<path d="M916.6,310.0 L917.0,308.7 L917.3,307.2 L917.6,305.6 L917.8,303.8 L917.9,301.9 L918.0,299.9 L918.2,297.8 L918.3,295.6 L918.4,293.4 L918.5,291.1 L918.6,288.8 L918.8,286.5 L919.1,284.2 L919.4,282.0 L919.8,279.8 L920.3,277.7 L920.8,275.6 L921.5,273.7 L922.3,271.9 L923.2,270.3 L924.3,268.8 L925.6,267.5 L927.0,266.4 L928.5,265.5 L930.2,264.8 L932.0,264.3 L933.8,263.9 L935.8,263.8 L937.7,263.9 L939.6,264.1 L941.5,264.5 L943.4,265.1 L945.2,265.9 L946.8,266.8 L948.4,267.9 L949.8,269.2 L951.0,270.6 L952.0,272.1 L952.9,273.7 L953.7,275.5 L954.2,277.3 L954.6,279.2 L954.9,281.1 L955.0,283.1 L954.9,285.0 L954.6,287.0 L954.1,288.9 L953.5,290.8 L952.8,292.7 L951.8,294.4 L950.7,296.1 L949.5,297.8 L948.2,299.3 L946.9,300.9 L945.5,302.4 L944.2,303.8 L942.9,305.3 L941.6,306.7 L940.5,308.1 L939.5,309.6" stroke="#ffffff" stroke-width="24" stroke-dasharray="1 1.7" opacity="0.2"/>
</g></g>
<rect x="902.7" y="250.9" width="67.8" height="55.8" fill="none" stroke="#000" stroke-width="1.6"/>
<text x="849.5" y="259" font-size="26" font-weight="bold">ExE</text>
<line x1="893" y1="264.8" x2="924.5" y2="278.4" stroke="#000" stroke-width="2.2"/>

<!-- bottom right text -->
<text x="879.8" y="391" font-size="26.6"><tspan font-style="italic">Nsd1</tspan> KO</text>
<text x="847.6" y="429.4" font-size="26.7">Global 5mC</text>
<text x="847.6" y="460.6" font-size="26.5">Germline genes</text>
<text x="847.6" y="493" font-size="26.5">Growth retardation</text>
<line x1="1007.8" y1="406.3" x2="1007.8" y2="424" stroke="#000" stroke-width="2.1"/>
<polygon points="1001,417.6 1007.8,433.3 1014.4,417.6 1007.8,422" fill="#000"/>
<line x1="1053" y1="450" x2="1053" y2="467.7" stroke="#000" stroke-width="2.1"/>
<polygon points="1046.3,455.8 1053,440 1059.7,455.8 1053,451.8" fill="#000"/>
</svg>
</body></html>
